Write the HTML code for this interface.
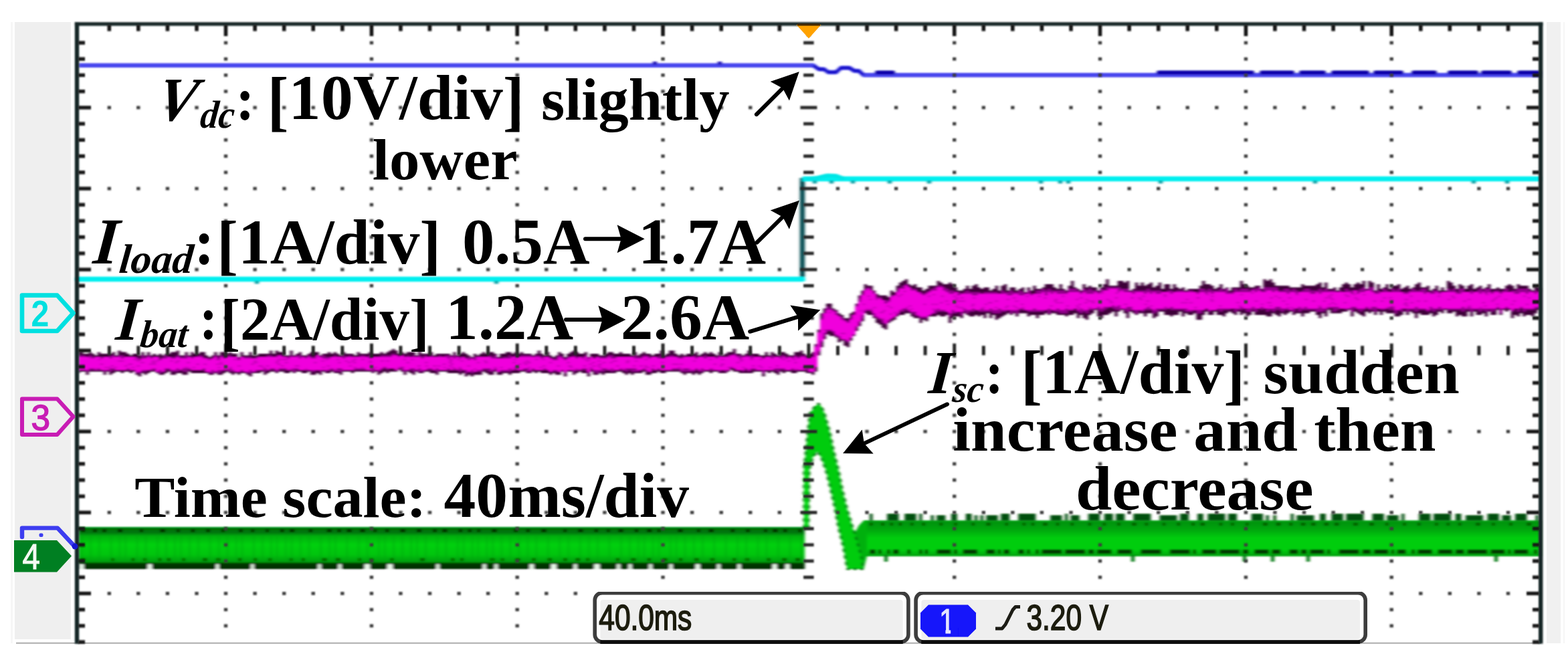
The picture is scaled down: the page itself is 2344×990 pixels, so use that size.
<!DOCTYPE html>
<html lang="en"><head><meta charset="utf-8"><title>Oscilloscope capture</title>
<style>html,body{margin:0;padding:0;background:#fff}body{width:2344px;height:990px;overflow:hidden}svg{display:block}.t{font-family:"Liberation Serif","DejaVu Serif",serif;fill:#000}.s{font-family:"Liberation Sans","DejaVu Sans",sans-serif}</style>
</head><body>
<svg width="2344" height="990" viewBox="0 0 2344 990">
<defs><filter id="b1" x="-2%" y="-2%" width="104%" height="104%"><feGaussianBlur stdDeviation="1.1"/></filter><filter id="b2" x="-2%" y="-2%" width="104%" height="104%"><feGaussianBlur stdDeviation="0.7"/></filter><filter id="b3" x="-2%" y="-2%" width="104%" height="104%"><feGaussianBlur stdDeviation="1.9 1.1"/></filter></defs>
<rect width="2344" height="990" fill="#fff"/>
<g id="panels">
<rect x="16" y="33" width="3" height="929" fill="#f6f6f6"/>
<rect x="22" y="33" width="84" height="923" fill="#efefef"/>
<rect x="2312" y="33" width="21" height="929" fill="#f0f0f0"/>
<rect x="2337" y="33" width="2" height="929" fill="#f6f6f6"/>
<rect x="24" y="960.8" width="2280" height="1.8" fill="#a6a6a6"/>
</g>
<g id="traces" filter="url(#b3)">
<polyline points="117,97.8 1216,97.8 1224,103.5 1232,103.5 1238,108 1250,108 1257,101.5 1270,101.5 1277,106 1284,106 1291,112.3 2303,112.3" fill="none" stroke="#4a46ee" stroke-width="6.4" stroke-linejoin="round"/>
<polyline points="1216,97.8 1224,103.5 1232,103.5 1238,108 1250,108 1257,101.5 1270,101.5 1277,106 1284,106 1291,112.3" fill="none" stroke="#1208c8" stroke-width="4" stroke-linejoin="round"/>
<rect x="1308" y="105.6" width="30" height="6" rx="2.5" fill="#0a00a8"/>
<rect x="1729" y="105.6" width="146" height="6" rx="2.5" fill="#0a00a8"/>
<rect x="1883" y="105.6" width="52" height="6" rx="2.5" fill="#0a00a8"/>
<rect x="1942" y="105.6" width="40" height="6" rx="2.5" fill="#0a00a8"/>
<rect x="1990" y="105.6" width="57" height="6" rx="2.5" fill="#0a00a8"/>
<rect x="2053" y="105.6" width="45" height="6" rx="2.5" fill="#0a00a8"/>
<rect x="2110" y="105.6" width="38" height="6" rx="2.5" fill="#0a00a8"/>
<rect x="2164" y="105.6" width="46" height="6" rx="2.5" fill="#0a00a8"/>
<rect x="2214" y="105.6" width="46" height="6" rx="2.5" fill="#0a00a8"/>
<rect x="2268" y="105.6" width="35" height="6" rx="2.5" fill="#0a00a8"/>
<rect x="976" y="92" width="6" height="5" fill="#1a10b0"/>
<rect x="1073" y="92" width="6" height="5" fill="#1a10b0"/>
<rect x="1195.8" y="266" width="7.2" height="152" fill="#004a50"/>
<polyline points="117,417.5 1200,417.5" fill="none" stroke="#00efef" stroke-width="7.6" stroke-linecap="round"/>
<polyline points="1199.5,267.5 2303,267.5" fill="none" stroke="#00efef" stroke-width="7.6"/>
<polyline points="1204,268 1222,266 1236,262.5 1250,263 1262,267.5" fill="none" stroke="#00e6e6" stroke-width="6"/>
<rect x="381" y="420" width="6" height="4.5" fill="#009aa0"/>
<rect x="739" y="420" width="6" height="4.5" fill="#009aa0"/>
<rect x="1215" y="270" width="6" height="4.5" fill="#009aa0"/>
<rect x="1240" y="270" width="6" height="4.5" fill="#009aa0"/>
<rect x="1272" y="270" width="6" height="4.5" fill="#009aa0"/>
<rect x="1327" y="270" width="6" height="4.5" fill="#009aa0"/>
<rect x="1386" y="270" width="6" height="4.5" fill="#009aa0"/>
<rect x="1553" y="270" width="6" height="4.5" fill="#009aa0"/>
<rect x="1582" y="270" width="6" height="4.5" fill="#009aa0"/>
<rect x="1594" y="270" width="6" height="4.5" fill="#009aa0"/>
<rect x="1732" y="270" width="6" height="4.5" fill="#009aa0"/>
<rect x="1963" y="270" width="6" height="4.5" fill="#009aa0"/>
<rect x="2200" y="270" width="6" height="4.5" fill="#009aa0"/>
<rect x="2250" y="270" width="6" height="4.5" fill="#009aa0"/>
<path d="M117 526.6V526.6 H119.7V524.2 H124.1V529 H128.4V529 H132.8V526.6 H137.1V529 H141.5V531.4 H145.8V526.6 H150.2V529 H154.6V529 H158.9V529 H163.3V529 H167.6V526.6 H172V531.4 H176.3V524.2 H180.7V526.6 H185.1V526.6 H189.4V529 H193.8V531.4 H198.1V529 H202.5V529 H206.8V531.4 H211.2V526.6 H215.5V531.4 H219.9V526.6 H224.3V531.4 H228.6V529 H233V531.4 H237.3V529 H241.7V531.4 H246V529 H250.4V529 H254.8V526.6 H259.1V526.6 H263.5V524.2 H267.8V531.4 H272.2V531.4 H276.5V526.6 H280.9V531.4 H285.3V526.6 H289.6V529 H294V529 H298.3V526.6 H302.7V526.6 H307V531.4 H311.4V533.9 H315.8V531.4 H320.1V526.6 H324.5V531.4 H328.8V526.6 H333.2V526.6 H337.5V529 H341.9V526.6 H346.2V529 H350.6V529 H355V533.9 H359.3V526.6 H363.7V531.4 H368V531.4 H372.4V526.6 H376.7V531.4 H381.1V531.4 H385.5V529 H389.8V529 H394.2V529 H398.5V529 H402.9V524.2 H407.2V529 H411.6V524.2 H416V526.6 H420.3V526.6 H424.7V531.4 H429V531.4 H433.4V524.2 H437.7V531.4 H442.1V529 H446.5V526.6 H450.8V531.4 H455.2V531.4 H459.5V529 H463.9V526.6 H468.2V526.6 H472.6V526.6 H476.9V531.4 H481.3V529 H485.7V529 H490V526.6 H494.4V529 H498.7V526.6 H503.1V529 H507.4V531.4 H511.8V526.6 H516.2V529 H520.5V529 H524.9V529 H529.2V531.4 H533.6V526.6 H537.9V529 H542.3V529 H546.7V529 H551V526.6 H555.4V529 H559.7V529 H564.1V529 H568.4V526.6 H572.8V529 H577.2V526.6 H581.5V524.2 H585.9V521.8 H590.2V524.2 H594.6V529 H598.9V526.6 H603.3V529 H607.7V526.6 H612V526.6 H616.4V526.6 H620.7V531.4 H625.1V524.2 H629.4V529 H633.8V529 H638.1V529 H642.5V526.6 H646.9V531.4 H651.2V529 H655.6V529 H659.9V529 H664.3V529 H668.6V529 H673V531.4 H677.4V526.6 H681.7V531.4 H686.1V529 H690.4V526.6 H694.8V529 H699.1V531.4 H703.5V533.9 H707.9V529 H712.2V531.4 H716.6V529 H720.9V526.6 H725.3V529 H729.6V526.6 H734V526.6 H738.4V529 H742.7V533.9 H747.1V529 H751.4V529 H755.8V526.6 H760.1V526.6 H764.5V529 H768.8V526.6 H773.2V529 H777.6V526.6 H781.9V529 H786.3V529 H790.6V529 H795V531.4 H799.3V529 H803.7V524.2 H808.1V529 H812.4V531.4 H816.8V526.6 H821.1V531.4 H825.5V533.9 H829.8V531.4 H834.2V526.6 H838.6V529 H842.9V533.9 H847.3V529 H851.6V526.6 H856V524.2 H860.3V526.6 H864.7V529 H869.1V529 H873.4V526.6 H877.8V533.9 H882.1V529 H886.5V529 H890.8V529 H895.2V531.4 H899.5V531.4 H903.9V529 H908.3V526.6 H912.6V526.6 H917V529 H921.3V529 H925.7V526.6 H930V529 H934.4V529 H938.8V529 H943.1V531.4 H947.5V526.6 H951.8V531.4 H956.2V529 H960.5V526.6 H964.9V529 H969.3V529 H973.6V531.4 H978V529 H982.3V529 H986.7V524.2 H991V531.4 H995.4V529 H999.8V524.2 H1004.1V524.2 H1008.5V529 H1012.8V531.4 H1017.2V529 H1021.5V531.4 H1025.9V529 H1030.3V529 H1034.6V529 H1039V526.6 H1043.3V531.4 H1047.7V529 H1052V526.6 H1056.4V529 H1060.7V526.6 H1065.1V529 H1069.5V531.4 H1073.8V526.6 H1078.2V531.4 H1082.5V529 H1086.9V526.6 H1091.2V526.6 H1095.6V521.8 H1100V529 H1104.3V529 H1108.7V531.4 H1113V529 H1117.4V524.2 H1121.7V529 H1126.1V529 H1130.5V529 H1134.8V531.4 H1139.2V531.4 H1143.5V526.6 H1147.9V531.4 H1152.2V526.6 H1156.6V529 H1161V531.4 H1165.3V526.6 H1169.7V526.6 H1174V529 H1178.4V531.4 H1182.7V531.4 H1187.1V526.6 H1191.4V526.6 H1195.8V524.2 H1200.2V529 H1204.5V531.4 H1208.9V529 H1213.2V526.6 H1217.6V514.5 H1221.9V492.7 H1226.3V468.5 H1230.7V461.2 H1235V453.9 H1239.4V453.9 H1243.7V461.2 H1248.1V463.6 H1252.4V468.5 H1256.8V470.9 H1261.2V475.7 H1265.5V475.7 H1269.9V468.5 H1274.2V466.1 H1278.6V453.9 H1282.9V441.8 H1287.3V434.6 H1291.7V424.9 H1296V427.3 H1300.4V427.3 H1304.7V434.6 H1309.1V439.4 H1313.4V441.8 H1317.8V441.8 H1322.1V441.8 H1326.5V444.3 H1330.9V434.6 H1335.2V437 H1339.6V427.3 H1343.9V422.5 H1348.3V420 H1352.6V417.6 H1357V424.9 H1361.4V427.3 H1365.7V424.9 H1370.1V429.7 H1374.4V429.7 H1378.8V434.6 H1383.1V432.1 H1387.5V427.3 H1391.9V427.3 H1396.2V427.3 H1400.6V420 H1404.9V422.5 H1409.3V424.9 H1413.6V424.9 H1418V422.5 H1422.4V424.9 H1426.7V429.7 H1431.1V434.6 H1435.4V434.6 H1439.8V432.1 H1444.1V427.3 H1448.5V432.1 H1452.9V427.3 H1457.2V424.9 H1461.6V429.7 H1465.9V432.1 H1470.3V429.7 H1474.6V429.7 H1479V434.6 H1483.3V432.1 H1487.7V427.3 H1492.1V434.6 H1496.4V427.3 H1500.8V424.9 H1505.1V434.6 H1509.5V429.7 H1513.8V429.7 H1518.2V434.6 H1522.6V432.1 H1526.9V429.7 H1531.3V437 H1535.6V429.7 H1540V434.6 H1544.3V427.3 H1548.7V432.1 H1553.1V432.1 H1557.4V429.7 H1561.8V424.9 H1566.1V424.9 H1570.5V424.9 H1574.8V429.7 H1579.2V432.1 H1583.6V424.9 H1587.9V432.1 H1592.3V434.6 H1596.6V427.3 H1601V420 H1605.3V429.7 H1609.7V432.1 H1614V434.6 H1618.4V424.9 H1622.8V429.7 H1627.1V427.3 H1631.5V429.7 H1635.8V429.7 H1640.2V434.6 H1644.5V429.7 H1648.9V424.9 H1653.3V417.6 H1657.6V427.3 H1662V427.3 H1666.3V427.3 H1670.7V420 H1675V420 H1679.4V422.5 H1683.8V420 H1688.1V434.6 H1692.5V432.1 H1696.8V422.5 H1701.2V427.3 H1705.5V422.5 H1709.9V427.3 H1714.3V424.9 H1718.6V422.5 H1723V429.7 H1727.3V427.3 H1731.7V422.5 H1736V432.1 H1740.4V424.9 H1744.7V424.9 H1749.1V432.1 H1753.5V424.9 H1757.8V429.7 H1762.2V432.1 H1766.5V429.7 H1770.9V434.6 H1775.2V432.1 H1779.6V432.1 H1784V432.1 H1788.3V432.1 H1792.7V427.3 H1797V420 H1801.4V424.9 H1805.7V424.9 H1810.1V427.3 H1814.5V432.1 H1818.8V429.7 H1823.2V424.9 H1827.5V432.1 H1831.9V429.7 H1836.2V434.6 H1840.6V429.7 H1845V429.7 H1849.3V429.7 H1853.7V420 H1858V424.9 H1862.4V427.3 H1866.7V429.7 H1871.1V429.7 H1875.5V427.3 H1879.8V427.3 H1884.2V432.1 H1888.5V417.6 H1892.9V420 H1897.2V417.6 H1901.6V422.5 H1905.9V427.3 H1910.3V427.3 H1914.7V427.3 H1919V427.3 H1923.4V427.3 H1927.7V429.7 H1932.1V429.7 H1936.4V429.7 H1940.8V429.7 H1945.2V424.9 H1949.5V427.3 H1953.9V427.3 H1958.2V427.3 H1962.6V427.3 H1966.9V424.9 H1971.3V422.5 H1975.7V429.7 H1980V422.5 H1984.4V432.1 H1988.7V432.1 H1993.1V429.7 H1997.4V434.6 H2001.8V429.7 H2006.2V424.9 H2010.5V422.5 H2014.9V424.9 H2019.2V429.7 H2023.6V424.9 H2027.9V422.5 H2032.3V424.9 H2036.6V420 H2041V432.1 H2045.4V420 H2049.7V422.5 H2054.1V434.6 H2058.4V424.9 H2062.8V432.1 H2067.1V429.7 H2071.5V424.9 H2075.9V432.1 H2080.2V427.3 H2084.6V427.3 H2088.9V424.9 H2093.3V432.1 H2097.6V429.7 H2102V427.3 H2106.4V432.1 H2110.7V429.7 H2115.1V424.9 H2119.4V422.5 H2123.8V429.7 H2128.1V429.7 H2132.5V427.3 H2136.9V434.6 H2141.2V432.1 H2145.6V427.3 H2149.9V434.6 H2154.3V429.7 H2158.6V434.6 H2163V420 H2167.3V422.5 H2171.7V427.3 H2176.1V432.1 H2180.4V424.9 H2184.8V427.3 H2189.1V432.1 H2193.5V427.3 H2197.8V424.9 H2202.2V432.1 H2206.6V429.7 H2210.9V427.3 H2215.3V432.1 H2219.6V429.7 H2224V424.9 H2228.3V432.1 H2232.7V432.1 H2237.1V429.7 H2241.4V432.1 H2245.8V432.1 H2250.1V427.3 H2254.5V424.9 H2258.8V427.3 H2263.2V432.1 H2267.6V424.9 H2271.9V427.3 H2276.3V427.3 H2280.6V427.3 H2285V432.1 H2289.3V434.6 H2293.7V427.3 H2298V429.7 H2302.4V432.1 H2303V470.9V470.9 H2302.4V463.6 H2298V468.5 H2293.7V473.3 H2289.3V470.9 H2285V470.9 H2280.6V473.3 H2276.3V468.5 H2271.9V473.3 H2267.6V470.9 H2263.2V475.7 H2258.8V463.6 H2254.5V466.1 H2250.1V463.6 H2245.8V470.9 H2241.4V463.6 H2237.1V470.9 H2232.7V470.9 H2228.3V466.1 H2224V473.3 H2219.6V468.5 H2215.3V470.9 H2210.9V470.9 H2206.6V466.1 H2202.2V473.3 H2197.8V466.1 H2193.5V473.3 H2189.1V473.3 H2184.8V470.9 H2180.4V473.3 H2176.1V466.1 H2171.7V468.5 H2167.3V468.5 H2163V463.6 H2158.6V468.5 H2154.3V466.1 H2149.9V470.9 H2145.6V473.3 H2141.2V468.5 H2136.9V470.9 H2132.5V470.9 H2128.1V470.9 H2123.8V468.5 H2119.4V475.7 H2115.1V468.5 H2110.7V466.1 H2106.4V470.9 H2102V466.1 H2097.6V470.9 H2093.3V473.3 H2088.9V473.3 H2084.6V468.5 H2080.2V468.5 H2075.9V468.5 H2071.5V466.1 H2067.1V470.9 H2062.8V466.1 H2058.4V470.9 H2054.1V466.1 H2049.7V468.5 H2045.4V466.1 H2041V473.3 H2036.6V470.9 H2032.3V468.5 H2027.9V466.1 H2023.6V473.3 H2019.2V463.6 H2014.9V466.1 H2010.5V466.1 H2006.2V468.5 H2001.8V468.5 H1997.4V468.5 H1993.1V468.5 H1988.7V463.6 H1984.4V473.3 H1980V468.5 H1975.7V475.7 H1971.3V470.9 H1966.9V466.1 H1962.6V466.1 H1958.2V468.5 H1953.9V468.5 H1949.5V473.3 H1945.2V468.5 H1940.8V468.5 H1936.4V470.9 H1932.1V466.1 H1927.7V468.5 H1923.4V470.9 H1919V468.5 H1914.7V473.3 H1910.3V470.9 H1905.9V468.5 H1901.6V473.3 H1897.2V473.3 H1892.9V470.9 H1888.5V470.9 H1884.2V470.9 H1879.8V470.9 H1875.5V466.1 H1871.1V470.9 H1866.7V473.3 H1862.4V468.5 H1858V470.9 H1853.7V466.1 H1849.3V470.9 H1845V468.5 H1840.6V466.1 H1836.2V468.5 H1831.9V473.3 H1827.5V470.9 H1823.2V470.9 H1818.8V466.1 H1814.5V470.9 H1810.1V470.9 H1805.7V466.1 H1801.4V470.9 H1797V478.2 H1792.7V478.2 H1788.3V468.5 H1784V470.9 H1779.6V470.9 H1775.2V468.5 H1770.9V473.3 H1766.5V466.1 H1762.2V470.9 H1757.8V470.9 H1753.5V473.3 H1749.1V470.9 H1744.7V470.9 H1740.4V466.1 H1736V466.1 H1731.7V473.3 H1727.3V475.7 H1723V468.5 H1718.6V468.5 H1714.3V473.3 H1709.9V468.5 H1705.5V468.5 H1701.2V470.9 H1696.8V468.5 H1692.5V466.1 H1688.1V475.7 H1683.8V468.5 H1679.4V463.6 H1675V466.1 H1670.7V473.3 H1666.3V466.1 H1662V468.5 H1657.6V470.9 H1653.3V470.9 H1648.9V475.7 H1644.5V473.3 H1640.2V463.6 H1635.8V468.5 H1631.5V470.9 H1627.1V478.2 H1622.8V475.7 H1618.4V470.9 H1614V475.7 H1609.7V468.5 H1605.3V470.9 H1601V470.9 H1596.6V473.3 H1592.3V470.9 H1587.9V470.9 H1583.6V470.9 H1579.2V468.5 H1574.8V468.5 H1570.5V470.9 H1566.1V468.5 H1561.8V470.9 H1557.4V470.9 H1553.1V475.7 H1548.7V470.9 H1544.3V470.9 H1540V473.3 H1535.6V468.5 H1531.3V468.5 H1526.9V468.5 H1522.6V473.3 H1518.2V468.5 H1513.8V470.9 H1509.5V468.5 H1505.1V470.9 H1500.8V473.3 H1496.4V475.7 H1492.1V478.2 H1487.7V470.9 H1483.3V475.7 H1479V468.5 H1474.6V475.7 H1470.3V470.9 H1465.9V473.3 H1461.6V470.9 H1457.2V473.3 H1452.9V473.3 H1448.5V470.9 H1444.1V468.5 H1439.8V475.7 H1435.4V473.3 H1431.1V473.3 H1426.7V475.7 H1422.4V483 H1418V470.9 H1413.6V473.3 H1409.3V473.3 H1404.9V470.9 H1400.6V473.3 H1396.2V473.3 H1391.9V473.3 H1387.5V480.6 H1383.1V478.2 H1378.8V483 H1374.4V475.7 H1370.1V475.7 H1365.7V473.3 H1361.4V468.5 H1357V468.5 H1352.6V470.9 H1348.3V470.9 H1343.9V473.3 H1339.6V478.2 H1335.2V480.6 H1330.9V483 H1326.5V492.7 H1322.1V490.3 H1317.8V485.4 H1313.4V483 H1309.1V475.7 H1304.7V470.9 H1300.4V470.9 H1296V468.5 H1291.7V480.6 H1287.3V487.8 H1282.9V495.1 H1278.6V502.4 H1274.2V509.6 H1269.9V519.3 H1265.5V516.9 H1261.2V509.6 H1256.8V512.1 H1252.4V504.8 H1248.1V502.4 H1243.7V502.4 H1239.4V500 H1235V507.2 H1230.7V519.3 H1226.3V531.4 H1221.9V555.7 H1217.6V560.5 H1213.2V558.1 H1208.9V558.1 H1204.5V555.7 H1200.2V555.7 H1195.8V555.7 H1191.4V558.1 H1187.1V558.1 H1182.7V555.7 H1178.4V555.7 H1174V558.1 H1169.7V555.7 H1165.3V560.5 H1161V558.1 H1156.6V555.7 H1152.2V558.1 H1147.9V555.7 H1143.5V562.9 H1139.2V555.7 H1134.8V555.7 H1130.5V555.7 H1126.1V558.1 H1121.7V558.1 H1117.4V558.1 H1113V558.1 H1108.7V558.1 H1104.3V555.7 H1100V555.7 H1095.6V553.2 H1091.2V555.7 H1086.9V558.1 H1082.5V558.1 H1078.2V558.1 H1073.8V555.7 H1069.5V555.7 H1065.1V558.1 H1060.7V555.7 H1056.4V555.7 H1052V558.1 H1047.7V560.5 H1043.3V558.1 H1039V560.5 H1034.6V558.1 H1030.3V558.1 H1025.9V560.5 H1021.5V558.1 H1017.2V555.7 H1012.8V555.7 H1008.5V555.7 H1004.1V555.7 H999.8V555.7 H995.4V558.1 H991V558.1 H986.7V555.7 H982.3V558.1 H978V558.1 H973.6V560.5 H969.3V560.5 H964.9V555.7 H960.5V558.1 H956.2V558.1 H951.8V558.1 H947.5V560.5 H943.1V558.1 H938.8V560.5 H934.4V558.1 H930V555.7 H925.7V555.7 H921.3V558.1 H917V558.1 H912.6V558.1 H908.3V558.1 H903.9V560.5 H899.5V558.1 H895.2V560.5 H890.8V560.5 H886.5V555.7 H882.1V562.9 H877.8V558.1 H873.4V558.1 H869.1V555.7 H864.7V558.1 H860.3V560.5 H856V555.7 H851.6V555.7 H847.3V562.9 H842.9V555.7 H838.6V560.5 H834.2V560.5 H829.8V558.1 H825.5V560.5 H821.1V558.1 H816.8V558.1 H812.4V558.1 H808.1V555.7 H803.7V558.1 H799.3V555.7 H795V558.1 H790.6V558.1 H786.3V555.7 H781.9V555.7 H777.6V558.1 H773.2V558.1 H768.8V558.1 H764.5V560.5 H760.1V558.1 H755.8V558.1 H751.4V560.5 H747.1V560.5 H742.7V555.7 H738.4V560.5 H734V560.5 H729.6V558.1 H725.3V555.7 H720.9V560.5 H716.6V560.5 H712.2V560.5 H707.9V562.9 H703.5V560.5 H699.1V562.9 H694.8V558.1 H690.4V560.5 H686.1V558.1 H681.7V558.1 H677.4V558.1 H673V558.1 H668.6V555.7 H664.3V555.7 H659.9V555.7 H655.6V560.5 H651.2V558.1 H646.9V558.1 H642.5V555.7 H638.1V555.7 H633.8V558.1 H629.4V558.1 H625.1V555.7 H620.7V560.5 H616.4V558.1 H612V555.7 H607.7V560.5 H603.3V555.7 H598.9V553.2 H594.6V555.7 H590.2V555.7 H585.9V555.7 H581.5V558.1 H577.2V555.7 H572.8V558.1 H568.4V560.5 H564.1V555.7 H559.7V558.1 H555.4V555.7 H551V555.7 H546.7V555.7 H542.3V555.7 H537.9V555.7 H533.6V555.7 H529.2V558.1 H524.9V555.7 H520.5V555.7 H516.2V555.7 H511.8V560.5 H507.4V558.1 H503.1V558.1 H498.7V555.7 H494.4V558.1 H490V558.1 H485.7V555.7 H481.3V560.5 H476.9V558.1 H472.6V560.5 H468.2V560.5 H463.9V555.7 H459.5V558.1 H455.2V558.1 H450.8V555.7 H446.5V555.7 H442.1V558.1 H437.7V555.7 H433.4V558.1 H429V558.1 H424.7V555.7 H420.3V555.7 H416V558.1 H411.6V555.7 H407.2V555.7 H402.9V558.1 H398.5V560.5 H394.2V555.7 H389.8V558.1 H385.5V558.1 H381.1V558.1 H376.7V562.9 H372.4V560.5 H368V558.1 H363.7V558.1 H359.3V560.5 H355V558.1 H350.6V560.5 H346.2V558.1 H341.9V555.7 H337.5V558.1 H333.2V560.5 H328.8V560.5 H324.5V558.1 H320.1V560.5 H315.8V560.5 H311.4V558.1 H307V558.1 H302.7V558.1 H298.3V558.1 H294V558.1 H289.6V558.1 H285.3V555.7 H280.9V560.5 H276.5V560.5 H272.2V558.1 H267.8V558.1 H263.5V560.5 H259.1V560.5 H254.8V555.7 H250.4V558.1 H246V560.5 H241.7V560.5 H237.3V558.1 H233V555.7 H228.6V555.7 H224.3V558.1 H219.9V560.5 H215.5V558.1 H211.2V562.9 H206.8V560.5 H202.5V555.7 H198.1V558.1 H193.8V555.7 H189.4V555.7 H185.1V558.1 H180.7V555.7 H176.3V555.7 H172V558.1 H167.6V560.5 H163.3V555.7 H158.9V560.5 H154.6V555.7 H150.2V555.7 H145.8V555.7 H141.5V555.7 H137.1V555.7 H132.8V560.5 H128.4V555.7 H124.1V555.7 H119.7V558.1 H117Z" fill="#3c0038"/>
<path d="M117 531.4V531.4 H119.7V531.4 H124.1V531.4 H128.4V533.9 H132.8V531.4 H137.1V533.9 H141.5V533.9 H145.8V533.9 H150.2V533.9 H154.6V533.9 H158.9V533.9 H163.3V531.4 H167.6V531.4 H172V533.9 H176.3V531.4 H180.7V531.4 H185.1V533.9 H189.4V533.9 H193.8V533.9 H198.1V533.9 H202.5V533.9 H206.8V536.3 H211.2V531.4 H215.5V533.9 H219.9V531.4 H224.3V533.9 H228.6V533.9 H233V533.9 H237.3V536.3 H241.7V533.9 H246V531.4 H250.4V533.9 H254.8V533.9 H259.1V533.9 H263.5V531.4 H267.8V533.9 H272.2V533.9 H276.5V531.4 H280.9V533.9 H285.3V533.9 H289.6V533.9 H294V531.4 H298.3V531.4 H302.7V533.9 H307V536.3 H311.4V536.3 H315.8V536.3 H320.1V531.4 H324.5V536.3 H328.8V531.4 H333.2V533.9 H337.5V531.4 H341.9V531.4 H346.2V533.9 H350.6V533.9 H355V536.3 H359.3V533.9 H363.7V533.9 H368V533.9 H372.4V533.9 H376.7V536.3 H381.1V533.9 H385.5V533.9 H389.8V533.9 H394.2V533.9 H398.5V531.4 H402.9V531.4 H407.2V533.9 H411.6V531.4 H416V531.4 H420.3V531.4 H424.7V533.9 H429V533.9 H433.4V531.4 H437.7V533.9 H442.1V531.4 H446.5V531.4 H450.8V533.9 H455.2V533.9 H459.5V531.4 H463.9V533.9 H468.2V533.9 H472.6V531.4 H476.9V533.9 H481.3V531.4 H485.7V533.9 H490V533.9 H494.4V533.9 H498.7V531.4 H503.1V533.9 H507.4V533.9 H511.8V531.4 H516.2V533.9 H520.5V531.4 H524.9V533.9 H529.2V533.9 H533.6V533.9 H537.9V531.4 H542.3V531.4 H546.7V533.9 H551V531.4 H555.4V533.9 H559.7V533.9 H564.1V533.9 H568.4V531.4 H572.8V531.4 H577.2V531.4 H581.5V531.4 H585.9V529 H590.2V531.4 H594.6V531.4 H598.9V531.4 H603.3V533.9 H607.7V531.4 H612V533.9 H616.4V531.4 H620.7V533.9 H625.1V531.4 H629.4V533.9 H633.8V531.4 H638.1V533.9 H642.5V531.4 H646.9V533.9 H651.2V533.9 H655.6V531.4 H659.9V533.9 H664.3V531.4 H668.6V531.4 H673V533.9 H677.4V531.4 H681.7V533.9 H686.1V533.9 H690.4V533.9 H694.8V536.3 H699.1V533.9 H703.5V536.3 H707.9V533.9 H712.2V533.9 H716.6V533.9 H720.9V533.9 H725.3V533.9 H729.6V531.4 H734V533.9 H738.4V531.4 H742.7V536.3 H747.1V536.3 H751.4V533.9 H755.8V533.9 H760.1V531.4 H764.5V533.9 H768.8V531.4 H773.2V533.9 H777.6V531.4 H781.9V531.4 H786.3V531.4 H790.6V531.4 H795V533.9 H799.3V531.4 H803.7V531.4 H808.1V533.9 H812.4V533.9 H816.8V533.9 H821.1V536.3 H825.5V536.3 H829.8V536.3 H834.2V531.4 H838.6V533.9 H842.9V536.3 H847.3V533.9 H851.6V533.9 H856V531.4 H860.3V533.9 H864.7V533.9 H869.1V533.9 H873.4V531.4 H877.8V536.3 H882.1V533.9 H886.5V536.3 H890.8V533.9 H895.2V533.9 H899.5V533.9 H903.9V533.9 H908.3V531.4 H912.6V531.4 H917V533.9 H921.3V533.9 H925.7V533.9 H930V533.9 H934.4V533.9 H938.8V533.9 H943.1V533.9 H947.5V531.4 H951.8V533.9 H956.2V533.9 H960.5V531.4 H964.9V531.4 H969.3V533.9 H973.6V533.9 H978V533.9 H982.3V533.9 H986.7V531.4 H991V533.9 H995.4V533.9 H999.8V531.4 H1004.1V531.4 H1008.5V533.9 H1012.8V533.9 H1017.2V533.9 H1021.5V533.9 H1025.9V533.9 H1030.3V533.9 H1034.6V531.4 H1039V533.9 H1043.3V533.9 H1047.7V533.9 H1052V531.4 H1056.4V533.9 H1060.7V533.9 H1065.1V533.9 H1069.5V533.9 H1073.8V531.4 H1078.2V533.9 H1082.5V533.9 H1086.9V531.4 H1091.2V531.4 H1095.6V529 H1100V531.4 H1104.3V531.4 H1108.7V533.9 H1113V531.4 H1117.4V531.4 H1121.7V531.4 H1126.1V533.9 H1130.5V533.9 H1134.8V533.9 H1139.2V536.3 H1143.5V533.9 H1147.9V533.9 H1152.2V531.4 H1156.6V533.9 H1161V533.9 H1165.3V531.4 H1169.7V531.4 H1174V533.9 H1178.4V533.9 H1182.7V533.9 H1187.1V531.4 H1191.4V533.9 H1195.8V531.4 H1200.2V531.4 H1204.5V533.9 H1208.9V536.3 H1213.2V533.9 H1217.6V516.9 H1221.9V497.5 H1226.3V475.7 H1230.7V468.5 H1235V458.8 H1239.4V461.2 H1243.7V463.6 H1248.1V466.1 H1252.4V473.3 H1256.8V475.7 H1261.2V478.2 H1265.5V480.6 H1269.9V475.7 H1274.2V470.9 H1278.6V456.4 H1282.9V446.7 H1287.3V439.4 H1291.7V432.1 H1296V429.7 H1300.4V434.6 H1304.7V437 H1309.1V444.3 H1313.4V444.3 H1317.8V449.1 H1322.1V449.1 H1326.5V449.1 H1330.9V441.8 H1335.2V441.8 H1339.6V434.6 H1343.9V429.7 H1348.3V427.3 H1352.6V424.9 H1357V429.7 H1361.4V432.1 H1365.7V432.1 H1370.1V437 H1374.4V437 H1378.8V439.4 H1383.1V437 H1387.5V434.6 H1391.9V432.1 H1396.2V429.7 H1400.6V427.3 H1404.9V427.3 H1409.3V429.7 H1413.6V432.1 H1418V434.6 H1422.4V434.6 H1426.7V437 H1431.1V437 H1435.4V439.4 H1439.8V437 H1444.1V434.6 H1448.5V437 H1452.9V437 H1457.2V437 H1461.6V437 H1465.9V439.4 H1470.3V437 H1474.6V437 H1479V437 H1483.3V437 H1487.7V437 H1492.1V439.4 H1496.4V434.6 H1500.8V437 H1505.1V437 H1509.5V434.6 H1513.8V437 H1518.2V437 H1522.6V434.6 H1526.9V437 H1531.3V439.4 H1535.6V434.6 H1540V439.4 H1544.3V439.4 H1548.7V434.6 H1553.1V434.6 H1557.4V432.1 H1561.8V434.6 H1566.1V432.1 H1570.5V434.6 H1574.8V434.6 H1579.2V434.6 H1583.6V434.6 H1587.9V434.6 H1592.3V437 H1596.6V432.1 H1601V432.1 H1605.3V432.1 H1609.7V434.6 H1614V437 H1618.4V432.1 H1622.8V434.6 H1627.1V432.1 H1631.5V434.6 H1635.8V434.6 H1640.2V437 H1644.5V432.1 H1648.9V434.6 H1653.3V429.7 H1657.6V429.7 H1662V429.7 H1666.3V429.7 H1670.7V429.7 H1675V432.1 H1679.4V432.1 H1683.8V432.1 H1688.1V437 H1692.5V434.6 H1696.8V434.6 H1701.2V434.6 H1705.5V434.6 H1709.9V434.6 H1714.3V432.1 H1718.6V434.6 H1723V434.6 H1727.3V434.6 H1731.7V434.6 H1736V437 H1740.4V437 H1744.7V434.6 H1749.1V434.6 H1753.5V437 H1757.8V434.6 H1762.2V434.6 H1766.5V434.6 H1770.9V437 H1775.2V434.6 H1779.6V434.6 H1784V437 H1788.3V437 H1792.7V432.1 H1797V432.1 H1801.4V434.6 H1805.7V432.1 H1810.1V434.6 H1814.5V434.6 H1818.8V434.6 H1823.2V432.1 H1827.5V434.6 H1831.9V432.1 H1836.2V437 H1840.6V437 H1845V432.1 H1849.3V434.6 H1853.7V432.1 H1858V432.1 H1862.4V432.1 H1866.7V434.6 H1871.1V432.1 H1875.5V432.1 H1879.8V429.7 H1884.2V434.6 H1888.5V429.7 H1892.9V429.7 H1897.2V429.7 H1901.6V429.7 H1905.9V429.7 H1910.3V434.6 H1914.7V434.6 H1919V432.1 H1923.4V432.1 H1927.7V434.6 H1932.1V432.1 H1936.4V434.6 H1940.8V437 H1945.2V434.6 H1949.5V432.1 H1953.9V432.1 H1958.2V434.6 H1962.6V434.6 H1966.9V434.6 H1971.3V432.1 H1975.7V434.6 H1980V432.1 H1984.4V434.6 H1988.7V434.6 H1993.1V434.6 H1997.4V437 H2001.8V434.6 H2006.2V437 H2010.5V432.1 H2014.9V434.6 H2019.2V434.6 H2023.6V434.6 H2027.9V434.6 H2032.3V432.1 H2036.6V429.7 H2041V434.6 H2045.4V429.7 H2049.7V429.7 H2054.1V437 H2058.4V434.6 H2062.8V437 H2067.1V432.1 H2071.5V434.6 H2075.9V437 H2080.2V432.1 H2084.6V434.6 H2088.9V432.1 H2093.3V437 H2097.6V437 H2102V437 H2106.4V434.6 H2110.7V432.1 H2115.1V434.6 H2119.4V434.6 H2123.8V432.1 H2128.1V432.1 H2132.5V437 H2136.9V437 H2141.2V434.6 H2145.6V434.6 H2149.9V437 H2154.3V437 H2158.6V437 H2163V432.1 H2167.3V434.6 H2171.7V432.1 H2176.1V437 H2180.4V432.1 H2184.8V432.1 H2189.1V437 H2193.5V437 H2197.8V434.6 H2202.2V437 H2206.6V434.6 H2210.9V432.1 H2215.3V434.6 H2219.6V432.1 H2224V432.1 H2228.3V437 H2232.7V434.6 H2237.1V434.6 H2241.4V437 H2245.8V434.6 H2250.1V432.1 H2254.5V437 H2258.8V434.6 H2263.2V434.6 H2267.6V432.1 H2271.9V432.1 H2276.3V432.1 H2280.6V432.1 H2285V434.6 H2289.3V437 H2293.7V434.6 H2298V437 H2302.4V437 H2303V463.6V463.6 H2302.4V461.2 H2298V461.2 H2293.7V463.6 H2289.3V463.6 H2285V463.6 H2280.6V466.1 H2276.3V461.2 H2271.9V466.1 H2267.6V461.2 H2263.2V466.1 H2258.8V461.2 H2254.5V461.2 H2250.1V461.2 H2245.8V468.5 H2241.4V461.2 H2237.1V463.6 H2232.7V466.1 H2228.3V463.6 H2224V466.1 H2219.6V463.6 H2215.3V466.1 H2210.9V463.6 H2206.6V463.6 H2202.2V466.1 H2197.8V463.6 H2193.5V463.6 H2189.1V466.1 H2184.8V463.6 H2180.4V463.6 H2176.1V463.6 H2171.7V463.6 H2167.3V463.6 H2163V461.2 H2158.6V463.6 H2154.3V463.6 H2149.9V463.6 H2145.6V466.1 H2141.2V463.6 H2136.9V466.1 H2132.5V463.6 H2128.1V463.6 H2123.8V463.6 H2119.4V466.1 H2115.1V463.6 H2110.7V463.6 H2106.4V466.1 H2102V461.2 H2097.6V466.1 H2093.3V463.6 H2088.9V468.5 H2084.6V463.6 H2080.2V463.6 H2075.9V461.2 H2071.5V463.6 H2067.1V463.6 H2062.8V461.2 H2058.4V466.1 H2054.1V463.6 H2049.7V463.6 H2045.4V461.2 H2041V463.6 H2036.6V466.1 H2032.3V463.6 H2027.9V461.2 H2023.6V466.1 H2019.2V461.2 H2014.9V463.6 H2010.5V461.2 H2006.2V461.2 H2001.8V463.6 H1997.4V466.1 H1993.1V461.2 H1988.7V461.2 H1984.4V463.6 H1980V466.1 H1975.7V466.1 H1971.3V466.1 H1966.9V463.6 H1962.6V463.6 H1958.2V463.6 H1953.9V463.6 H1949.5V463.6 H1945.2V466.1 H1940.8V461.2 H1936.4V466.1 H1932.1V463.6 H1927.7V463.6 H1923.4V463.6 H1919V466.1 H1914.7V463.6 H1910.3V463.6 H1905.9V466.1 H1901.6V463.6 H1897.2V466.1 H1892.9V461.2 H1888.5V463.6 H1884.2V461.2 H1879.8V466.1 H1875.5V463.6 H1871.1V466.1 H1866.7V466.1 H1862.4V461.2 H1858V463.6 H1853.7V463.6 H1849.3V466.1 H1845V461.2 H1840.6V463.6 H1836.2V463.6 H1831.9V463.6 H1827.5V466.1 H1823.2V463.6 H1818.8V463.6 H1814.5V463.6 H1810.1V466.1 H1805.7V461.2 H1801.4V463.6 H1797V468.5 H1792.7V468.5 H1788.3V463.6 H1784V466.1 H1779.6V466.1 H1775.2V466.1 H1770.9V463.6 H1766.5V463.6 H1762.2V463.6 H1757.8V463.6 H1753.5V463.6 H1749.1V461.2 H1744.7V463.6 H1740.4V463.6 H1736V463.6 H1731.7V466.1 H1727.3V468.5 H1723V463.6 H1718.6V463.6 H1714.3V463.6 H1709.9V466.1 H1705.5V463.6 H1701.2V468.5 H1696.8V463.6 H1692.5V463.6 H1688.1V466.1 H1683.8V463.6 H1679.4V461.2 H1675V463.6 H1670.7V463.6 H1666.3V461.2 H1662V458.8 H1657.6V461.2 H1653.3V463.6 H1648.9V466.1 H1644.5V463.6 H1640.2V461.2 H1635.8V463.6 H1631.5V463.6 H1627.1V468.5 H1622.8V466.1 H1618.4V468.5 H1614V466.1 H1609.7V461.2 H1605.3V463.6 H1601V463.6 H1596.6V468.5 H1592.3V468.5 H1587.9V468.5 H1583.6V466.1 H1579.2V466.1 H1574.8V463.6 H1570.5V468.5 H1566.1V463.6 H1561.8V466.1 H1557.4V466.1 H1553.1V466.1 H1548.7V466.1 H1544.3V466.1 H1540V466.1 H1535.6V463.6 H1531.3V463.6 H1526.9V463.6 H1522.6V468.5 H1518.2V466.1 H1513.8V468.5 H1509.5V463.6 H1505.1V466.1 H1500.8V466.1 H1496.4V468.5 H1492.1V468.5 H1487.7V468.5 H1483.3V466.1 H1479V466.1 H1474.6V466.1 H1470.3V466.1 H1465.9V466.1 H1461.6V463.6 H1457.2V466.1 H1452.9V466.1 H1448.5V468.5 H1444.1V466.1 H1439.8V470.9 H1435.4V466.1 H1431.1V468.5 H1426.7V468.5 H1422.4V473.3 H1418V466.1 H1413.6V466.1 H1409.3V466.1 H1404.9V466.1 H1400.6V468.5 H1396.2V468.5 H1391.9V470.9 H1387.5V475.7 H1383.1V475.7 H1378.8V475.7 H1374.4V473.3 H1370.1V470.9 H1365.7V468.5 H1361.4V466.1 H1357V463.6 H1352.6V466.1 H1348.3V466.1 H1343.9V470.9 H1339.6V473.3 H1335.2V475.7 H1330.9V480.6 H1326.5V485.4 H1322.1V483 H1317.8V478.2 H1313.4V475.7 H1309.1V473.3 H1304.7V466.1 H1300.4V463.6 H1296V466.1 H1291.7V475.7 H1287.3V480.6 H1282.9V490.3 H1278.6V500 H1274.2V504.8 H1269.9V512.1 H1265.5V509.6 H1261.2V507.2 H1256.8V504.8 H1252.4V502.4 H1248.1V497.5 H1243.7V495.1 H1239.4V495.1 H1235V502.4 H1230.7V512.1 H1226.3V526.6 H1221.9V548.4 H1217.6V555.7 H1213.2V555.7 H1208.9V553.2 H1204.5V553.2 H1200.2V553.2 H1195.8V553.2 H1191.4V553.2 H1187.1V553.2 H1182.7V553.2 H1178.4V553.2 H1174V553.2 H1169.7V553.2 H1165.3V555.7 H1161V553.2 H1156.6V553.2 H1152.2V553.2 H1147.9V553.2 H1143.5V558.1 H1139.2V553.2 H1134.8V553.2 H1130.5V553.2 H1126.1V553.2 H1121.7V555.7 H1117.4V553.2 H1113V555.7 H1108.7V553.2 H1104.3V553.2 H1100V550.8 H1095.6V550.8 H1091.2V553.2 H1086.9V555.7 H1082.5V553.2 H1078.2V555.7 H1073.8V553.2 H1069.5V553.2 H1065.1V553.2 H1060.7V553.2 H1056.4V553.2 H1052V555.7 H1047.7V555.7 H1043.3V553.2 H1039V555.7 H1034.6V555.7 H1030.3V555.7 H1025.9V555.7 H1021.5V555.7 H1017.2V553.2 H1012.8V553.2 H1008.5V553.2 H1004.1V553.2 H999.8V553.2 H995.4V553.2 H991V553.2 H986.7V553.2 H982.3V553.2 H978V553.2 H973.6V555.7 H969.3V555.7 H964.9V553.2 H960.5V553.2 H956.2V555.7 H951.8V555.7 H947.5V555.7 H943.1V553.2 H938.8V555.7 H934.4V553.2 H930V553.2 H925.7V553.2 H921.3V553.2 H917V555.7 H912.6V553.2 H908.3V553.2 H903.9V555.7 H899.5V555.7 H895.2V558.1 H890.8V555.7 H886.5V553.2 H882.1V558.1 H877.8V553.2 H873.4V553.2 H869.1V553.2 H864.7V553.2 H860.3V555.7 H856V553.2 H851.6V553.2 H847.3V558.1 H842.9V553.2 H838.6V555.7 H834.2V555.7 H829.8V555.7 H825.5V555.7 H821.1V553.2 H816.8V553.2 H812.4V553.2 H808.1V553.2 H803.7V553.2 H799.3V553.2 H795V555.7 H790.6V555.7 H786.3V553.2 H781.9V553.2 H777.6V553.2 H773.2V553.2 H768.8V553.2 H764.5V555.7 H760.1V555.7 H755.8V555.7 H751.4V555.7 H747.1V555.7 H742.7V553.2 H738.4V555.7 H734V555.7 H729.6V553.2 H725.3V553.2 H720.9V555.7 H716.6V555.7 H712.2V555.7 H707.9V558.1 H703.5V555.7 H699.1V558.1 H694.8V553.2 H690.4V555.7 H686.1V553.2 H681.7V553.2 H677.4V553.2 H673V553.2 H668.6V553.2 H664.3V553.2 H659.9V553.2 H655.6V555.7 H651.2V553.2 H646.9V553.2 H642.5V553.2 H638.1V553.2 H633.8V555.7 H629.4V555.7 H625.1V553.2 H620.7V555.7 H616.4V553.2 H612V553.2 H607.7V555.7 H603.3V553.2 H598.9V550.8 H594.6V553.2 H590.2V550.8 H585.9V550.8 H581.5V553.2 H577.2V550.8 H572.8V553.2 H568.4V555.7 H564.1V553.2 H559.7V555.7 H555.4V553.2 H551V553.2 H546.7V553.2 H542.3V553.2 H537.9V553.2 H533.6V553.2 H529.2V553.2 H524.9V553.2 H520.5V553.2 H516.2V553.2 H511.8V555.7 H507.4V555.7 H503.1V555.7 H498.7V553.2 H494.4V553.2 H490V555.7 H485.7V553.2 H481.3V555.7 H476.9V553.2 H472.6V555.7 H468.2V555.7 H463.9V553.2 H459.5V553.2 H455.2V553.2 H450.8V553.2 H446.5V553.2 H442.1V555.7 H437.7V553.2 H433.4V553.2 H429V553.2 H424.7V553.2 H420.3V553.2 H416V555.7 H411.6V553.2 H407.2V553.2 H402.9V553.2 H398.5V555.7 H394.2V553.2 H389.8V553.2 H385.5V555.7 H381.1V555.7 H376.7V558.1 H372.4V558.1 H368V555.7 H363.7V555.7 H359.3V555.7 H355V555.7 H350.6V555.7 H346.2V555.7 H341.9V553.2 H337.5V553.2 H333.2V555.7 H328.8V558.1 H324.5V555.7 H320.1V558.1 H315.8V558.1 H311.4V555.7 H307V553.2 H302.7V553.2 H298.3V553.2 H294V553.2 H289.6V553.2 H285.3V553.2 H280.9V555.7 H276.5V555.7 H272.2V553.2 H267.8V555.7 H263.5V555.7 H259.1V555.7 H254.8V553.2 H250.4V553.2 H246V555.7 H241.7V558.1 H237.3V555.7 H233V553.2 H228.6V553.2 H224.3V553.2 H219.9V555.7 H215.5V555.7 H211.2V558.1 H206.8V558.1 H202.5V553.2 H198.1V553.2 H193.8V553.2 H189.4V553.2 H185.1V553.2 H180.7V553.2 H176.3V553.2 H172V553.2 H167.6V555.7 H163.3V553.2 H158.9V555.7 H154.6V553.2 H150.2V553.2 H145.8V553.2 H141.5V553.2 H137.1V553.2 H132.8V555.7 H128.4V553.2 H124.1V553.2 H119.7V553.2 H117Z" fill="#92008c"/>
<path d="M117 533.9V533.9 H119.7V533.9 H124.1V533.9 H128.4V533.9 H132.8V533.9 H137.1V536.3 H141.5V533.9 H145.8V533.9 H150.2V536.3 H154.6V533.9 H158.9V533.9 H163.3V536.3 H167.6V533.9 H172V533.9 H176.3V533.9 H180.7V536.3 H185.1V533.9 H189.4V533.9 H193.8V533.9 H198.1V533.9 H202.5V536.3 H206.8V538.7 H211.2V536.3 H215.5V536.3 H219.9V533.9 H224.3V536.3 H228.6V533.9 H233V533.9 H237.3V538.7 H241.7V536.3 H246V536.3 H250.4V533.9 H254.8V536.3 H259.1V536.3 H263.5V533.9 H267.8V536.3 H272.2V536.3 H276.5V536.3 H280.9V533.9 H285.3V536.3 H289.6V533.9 H294V533.9 H298.3V533.9 H302.7V536.3 H307V536.3 H311.4V538.7 H315.8V536.3 H320.1V533.9 H324.5V538.7 H328.8V533.9 H333.2V536.3 H337.5V533.9 H341.9V533.9 H346.2V533.9 H350.6V533.9 H355V538.7 H359.3V533.9 H363.7V536.3 H368V536.3 H372.4V536.3 H376.7V536.3 H381.1V536.3 H385.5V533.9 H389.8V533.9 H394.2V533.9 H398.5V533.9 H402.9V533.9 H407.2V533.9 H411.6V533.9 H416V531.4 H420.3V533.9 H424.7V533.9 H429V536.3 H433.4V533.9 H437.7V533.9 H442.1V533.9 H446.5V536.3 H450.8V533.9 H455.2V536.3 H459.5V533.9 H463.9V536.3 H468.2V536.3 H472.6V531.4 H476.9V533.9 H481.3V536.3 H485.7V536.3 H490V536.3 H494.4V533.9 H498.7V533.9 H503.1V533.9 H507.4V533.9 H511.8V536.3 H516.2V533.9 H520.5V533.9 H524.9V533.9 H529.2V533.9 H533.6V533.9 H537.9V533.9 H542.3V533.9 H546.7V533.9 H551V536.3 H555.4V533.9 H559.7V533.9 H564.1V533.9 H568.4V533.9 H572.8V533.9 H577.2V533.9 H581.5V533.9 H585.9V531.4 H590.2V531.4 H594.6V533.9 H598.9V531.4 H603.3V533.9 H607.7V533.9 H612V533.9 H616.4V533.9 H620.7V533.9 H625.1V533.9 H629.4V536.3 H633.8V533.9 H638.1V533.9 H642.5V533.9 H646.9V533.9 H651.2V533.9 H655.6V533.9 H659.9V533.9 H664.3V533.9 H668.6V536.3 H673V533.9 H677.4V536.3 H681.7V533.9 H686.1V536.3 H690.4V533.9 H694.8V536.3 H699.1V538.7 H703.5V536.3 H707.9V538.7 H712.2V533.9 H716.6V533.9 H720.9V533.9 H725.3V533.9 H729.6V533.9 H734V536.3 H738.4V536.3 H742.7V536.3 H747.1V536.3 H751.4V536.3 H755.8V536.3 H760.1V536.3 H764.5V533.9 H768.8V533.9 H773.2V533.9 H777.6V533.9 H781.9V533.9 H786.3V533.9 H790.6V533.9 H795V533.9 H799.3V533.9 H803.7V533.9 H808.1V536.3 H812.4V533.9 H816.8V533.9 H821.1V536.3 H825.5V538.7 H829.8V538.7 H834.2V533.9 H838.6V536.3 H842.9V538.7 H847.3V536.3 H851.6V533.9 H856V533.9 H860.3V536.3 H864.7V533.9 H869.1V536.3 H873.4V533.9 H877.8V536.3 H882.1V533.9 H886.5V536.3 H890.8V533.9 H895.2V536.3 H899.5V536.3 H903.9V536.3 H908.3V533.9 H912.6V536.3 H917V536.3 H921.3V533.9 H925.7V533.9 H930V533.9 H934.4V533.9 H938.8V533.9 H943.1V533.9 H947.5V536.3 H951.8V536.3 H956.2V536.3 H960.5V533.9 H964.9V533.9 H969.3V536.3 H973.6V533.9 H978V533.9 H982.3V536.3 H986.7V536.3 H991V536.3 H995.4V533.9 H999.8V533.9 H1004.1V533.9 H1008.5V533.9 H1012.8V536.3 H1017.2V536.3 H1021.5V533.9 H1025.9V533.9 H1030.3V533.9 H1034.6V533.9 H1039V536.3 H1043.3V533.9 H1047.7V533.9 H1052V536.3 H1056.4V533.9 H1060.7V533.9 H1065.1V533.9 H1069.5V536.3 H1073.8V533.9 H1078.2V533.9 H1082.5V533.9 H1086.9V533.9 H1091.2V531.4 H1095.6V531.4 H1100V533.9 H1104.3V536.3 H1108.7V533.9 H1113V533.9 H1117.4V533.9 H1121.7V536.3 H1126.1V533.9 H1130.5V533.9 H1134.8V533.9 H1139.2V536.3 H1143.5V533.9 H1147.9V533.9 H1152.2V536.3 H1156.6V533.9 H1161V533.9 H1165.3V536.3 H1169.7V533.9 H1174V536.3 H1178.4V533.9 H1182.7V536.3 H1187.1V533.9 H1191.4V536.3 H1195.8V533.9 H1200.2V533.9 H1204.5V536.3 H1208.9V536.3 H1213.2V533.9 H1217.6V519.3 H1221.9V497.5 H1226.3V478.2 H1230.7V468.5 H1235V463.6 H1239.4V463.6 H1243.7V466.1 H1248.1V470.9 H1252.4V473.3 H1256.8V478.2 H1261.2V480.6 H1265.5V483 H1269.9V478.2 H1274.2V470.9 H1278.6V458.8 H1282.9V451.5 H1287.3V441.8 H1291.7V434.6 H1296V432.1 H1300.4V434.6 H1304.7V439.4 H1309.1V446.7 H1313.4V446.7 H1317.8V449.1 H1322.1V453.9 H1326.5V451.5 H1330.9V444.3 H1335.2V441.8 H1339.6V437 H1343.9V432.1 H1348.3V432.1 H1352.6V427.3 H1357V429.7 H1361.4V434.6 H1365.7V434.6 H1370.1V437 H1374.4V439.4 H1378.8V441.8 H1383.1V439.4 H1387.5V437 H1391.9V434.6 H1396.2V434.6 H1400.6V429.7 H1404.9V429.7 H1409.3V434.6 H1413.6V437 H1418V439.4 H1422.4V439.4 H1426.7V437 H1431.1V441.8 H1435.4V439.4 H1439.8V439.4 H1444.1V439.4 H1448.5V439.4 H1452.9V441.8 H1457.2V441.8 H1461.6V439.4 H1465.9V439.4 H1470.3V439.4 H1474.6V439.4 H1479V439.4 H1483.3V439.4 H1487.7V439.4 H1492.1V439.4 H1496.4V439.4 H1500.8V439.4 H1505.1V441.8 H1509.5V441.8 H1513.8V439.4 H1518.2V439.4 H1522.6V441.8 H1526.9V441.8 H1531.3V439.4 H1535.6V439.4 H1540V441.8 H1544.3V439.4 H1548.7V439.4 H1553.1V439.4 H1557.4V437 H1561.8V441.8 H1566.1V437 H1570.5V439.4 H1574.8V437 H1579.2V439.4 H1583.6V439.4 H1587.9V439.4 H1592.3V439.4 H1596.6V437 H1601V437 H1605.3V437 H1609.7V437 H1614V439.4 H1618.4V437 H1622.8V439.4 H1627.1V439.4 H1631.5V439.4 H1635.8V437 H1640.2V439.4 H1644.5V437 H1648.9V434.6 H1653.3V434.6 H1657.6V432.1 H1662V432.1 H1666.3V432.1 H1670.7V437 H1675V434.6 H1679.4V437 H1683.8V437 H1688.1V437 H1692.5V439.4 H1696.8V437 H1701.2V437 H1705.5V437 H1709.9V439.4 H1714.3V437 H1718.6V439.4 H1723V437 H1727.3V439.4 H1731.7V439.4 H1736V437 H1740.4V437 H1744.7V437 H1749.1V439.4 H1753.5V437 H1757.8V437 H1762.2V437 H1766.5V437 H1770.9V437 H1775.2V437 H1779.6V437 H1784V437 H1788.3V439.4 H1792.7V437 H1797V437 H1801.4V439.4 H1805.7V437 H1810.1V439.4 H1814.5V437 H1818.8V437 H1823.2V437 H1827.5V437 H1831.9V439.4 H1836.2V439.4 H1840.6V439.4 H1845V437 H1849.3V437 H1853.7V437 H1858V437 H1862.4V437 H1866.7V437 H1871.1V434.6 H1875.5V437 H1879.8V434.6 H1884.2V437 H1888.5V437 H1892.9V434.6 H1897.2V434.6 H1901.6V437 H1905.9V434.6 H1910.3V437 H1914.7V437 H1919V437 H1923.4V439.4 H1927.7V437 H1932.1V437 H1936.4V439.4 H1940.8V437 H1945.2V437 H1949.5V437 H1953.9V437 H1958.2V439.4 H1962.6V439.4 H1966.9V437 H1971.3V439.4 H1975.7V437 H1980V437 H1984.4V437 H1988.7V437 H1993.1V437 H1997.4V437 H2001.8V437 H2006.2V437 H2010.5V437 H2014.9V437 H2019.2V439.4 H2023.6V434.6 H2027.9V439.4 H2032.3V437 H2036.6V437 H2041V434.6 H2045.4V434.6 H2049.7V437 H2054.1V439.4 H2058.4V439.4 H2062.8V437 H2067.1V437 H2071.5V437 H2075.9V437 H2080.2V437 H2084.6V437 H2088.9V437 H2093.3V437 H2097.6V439.4 H2102V439.4 H2106.4V437 H2110.7V437 H2115.1V437 H2119.4V437 H2123.8V437 H2128.1V439.4 H2132.5V437 H2136.9V439.4 H2141.2V439.4 H2145.6V437 H2149.9V439.4 H2154.3V437 H2158.6V437 H2163V437 H2167.3V437 H2171.7V437 H2176.1V439.4 H2180.4V439.4 H2184.8V437 H2189.1V437 H2193.5V437 H2197.8V439.4 H2202.2V437 H2206.6V437 H2210.9V439.4 H2215.3V437 H2219.6V439.4 H2224V437 H2228.3V439.4 H2232.7V437 H2237.1V437 H2241.4V439.4 H2245.8V437 H2250.1V437 H2254.5V437 H2258.8V437 H2263.2V439.4 H2267.6V439.4 H2271.9V437 H2276.3V437 H2280.6V439.4 H2285V437 H2289.3V437 H2293.7V439.4 H2298V437 H2302.4V439.4 H2303V458.8V458.8 H2302.4V458.8 H2298V458.8 H2293.7V461.2 H2289.3V461.2 H2285V461.2 H2280.6V461.2 H2276.3V458.8 H2271.9V461.2 H2267.6V461.2 H2263.2V463.6 H2258.8V461.2 H2254.5V458.8 H2250.1V461.2 H2245.8V461.2 H2241.4V458.8 H2237.1V461.2 H2232.7V461.2 H2228.3V461.2 H2224V461.2 H2219.6V461.2 H2215.3V461.2 H2210.9V461.2 H2206.6V461.2 H2202.2V461.2 H2197.8V458.8 H2193.5V461.2 H2189.1V458.8 H2184.8V461.2 H2180.4V461.2 H2176.1V461.2 H2171.7V461.2 H2167.3V461.2 H2163V461.2 H2158.6V461.2 H2154.3V458.8 H2149.9V461.2 H2145.6V461.2 H2141.2V458.8 H2136.9V463.6 H2132.5V461.2 H2128.1V461.2 H2123.8V461.2 H2119.4V458.8 H2115.1V461.2 H2110.7V461.2 H2106.4V461.2 H2102V461.2 H2097.6V461.2 H2093.3V463.6 H2088.9V463.6 H2084.6V458.8 H2080.2V458.8 H2075.9V461.2 H2071.5V461.2 H2067.1V461.2 H2062.8V461.2 H2058.4V458.8 H2054.1V458.8 H2049.7V461.2 H2045.4V458.8 H2041V461.2 H2036.6V461.2 H2032.3V461.2 H2027.9V458.8 H2023.6V458.8 H2019.2V461.2 H2014.9V461.2 H2010.5V461.2 H2006.2V461.2 H2001.8V458.8 H1997.4V458.8 H1993.1V458.8 H1988.7V458.8 H1984.4V461.2 H1980V461.2 H1975.7V458.8 H1971.3V461.2 H1966.9V461.2 H1962.6V461.2 H1958.2V461.2 H1953.9V458.8 H1949.5V461.2 H1945.2V458.8 H1940.8V461.2 H1936.4V461.2 H1932.1V463.6 H1927.7V461.2 H1923.4V461.2 H1919V461.2 H1914.7V458.8 H1910.3V458.8 H1905.9V461.2 H1901.6V461.2 H1897.2V461.2 H1892.9V461.2 H1888.5V458.8 H1884.2V461.2 H1879.8V461.2 H1875.5V458.8 H1871.1V461.2 H1866.7V461.2 H1862.4V461.2 H1858V458.8 H1853.7V461.2 H1849.3V461.2 H1845V461.2 H1840.6V461.2 H1836.2V461.2 H1831.9V461.2 H1827.5V461.2 H1823.2V461.2 H1818.8V463.6 H1814.5V463.6 H1810.1V463.6 H1805.7V461.2 H1801.4V463.6 H1797V463.6 H1792.7V463.6 H1788.3V463.6 H1784V463.6 H1779.6V463.6 H1775.2V461.2 H1770.9V461.2 H1766.5V461.2 H1762.2V461.2 H1757.8V461.2 H1753.5V458.8 H1749.1V461.2 H1744.7V458.8 H1740.4V461.2 H1736V461.2 H1731.7V461.2 H1727.3V463.6 H1723V461.2 H1718.6V458.8 H1714.3V461.2 H1709.9V463.6 H1705.5V463.6 H1701.2V463.6 H1696.8V463.6 H1692.5V458.8 H1688.1V458.8 H1683.8V461.2 H1679.4V461.2 H1675V456.4 H1670.7V458.8 H1666.3V456.4 H1662V458.8 H1657.6V458.8 H1653.3V458.8 H1648.9V461.2 H1644.5V458.8 H1640.2V461.2 H1635.8V461.2 H1631.5V461.2 H1627.1V463.6 H1622.8V463.6 H1618.4V461.2 H1614V463.6 H1609.7V461.2 H1605.3V463.6 H1601V463.6 H1596.6V461.2 H1592.3V463.6 H1587.9V463.6 H1583.6V461.2 H1579.2V463.6 H1574.8V463.6 H1570.5V461.2 H1566.1V463.6 H1561.8V463.6 H1557.4V463.6 H1553.1V463.6 H1548.7V461.2 H1544.3V463.6 H1540V463.6 H1535.6V463.6 H1531.3V461.2 H1526.9V461.2 H1522.6V463.6 H1518.2V463.6 H1513.8V463.6 H1509.5V463.6 H1505.1V463.6 H1500.8V463.6 H1496.4V461.2 H1492.1V463.6 H1487.7V463.6 H1483.3V461.2 H1479V463.6 H1474.6V463.6 H1470.3V461.2 H1465.9V463.6 H1461.6V463.6 H1457.2V461.2 H1452.9V463.6 H1448.5V463.6 H1444.1V461.2 H1439.8V466.1 H1435.4V466.1 H1431.1V466.1 H1426.7V463.6 H1422.4V468.5 H1418V466.1 H1413.6V463.6 H1409.3V463.6 H1404.9V461.2 H1400.6V463.6 H1396.2V468.5 H1391.9V470.9 H1387.5V473.3 H1383.1V473.3 H1378.8V473.3 H1374.4V470.9 H1370.1V466.1 H1365.7V466.1 H1361.4V463.6 H1357V461.2 H1352.6V461.2 H1348.3V463.6 H1343.9V468.5 H1339.6V473.3 H1335.2V475.7 H1330.9V478.2 H1326.5V483 H1322.1V478.2 H1317.8V475.7 H1313.4V473.3 H1309.1V468.5 H1304.7V463.6 H1300.4V463.6 H1296V463.6 H1291.7V470.9 H1287.3V480.6 H1282.9V487.8 H1278.6V500 H1274.2V504.8 H1269.9V509.6 H1265.5V507.2 H1261.2V507.2 H1256.8V502.4 H1252.4V500 H1248.1V495.1 H1243.7V492.7 H1239.4V492.7 H1235V497.5 H1230.7V509.6 H1226.3V524.2 H1221.9V548.4 H1217.6V555.7 H1213.2V555.7 H1208.9V550.8 H1204.5V553.2 H1200.2V553.2 H1195.8V553.2 H1191.4V553.2 H1187.1V550.8 H1182.7V553.2 H1178.4V553.2 H1174V550.8 H1169.7V550.8 H1165.3V550.8 H1161V550.8 H1156.6V553.2 H1152.2V553.2 H1147.9V553.2 H1143.5V553.2 H1139.2V553.2 H1134.8V553.2 H1130.5V550.8 H1126.1V550.8 H1121.7V553.2 H1117.4V550.8 H1113V553.2 H1108.7V553.2 H1104.3V553.2 H1100V550.8 H1095.6V548.4 H1091.2V553.2 H1086.9V553.2 H1082.5V553.2 H1078.2V553.2 H1073.8V553.2 H1069.5V553.2 H1065.1V550.8 H1060.7V553.2 H1056.4V553.2 H1052V550.8 H1047.7V553.2 H1043.3V550.8 H1039V553.2 H1034.6V553.2 H1030.3V550.8 H1025.9V550.8 H1021.5V553.2 H1017.2V550.8 H1012.8V550.8 H1008.5V550.8 H1004.1V553.2 H999.8V553.2 H995.4V553.2 H991V553.2 H986.7V550.8 H982.3V553.2 H978V550.8 H973.6V555.7 H969.3V553.2 H964.9V550.8 H960.5V553.2 H956.2V553.2 H951.8V550.8 H947.5V550.8 H943.1V550.8 H938.8V550.8 H934.4V553.2 H930V550.8 H925.7V553.2 H921.3V553.2 H917V550.8 H912.6V553.2 H908.3V550.8 H903.9V550.8 H899.5V553.2 H895.2V553.2 H890.8V553.2 H886.5V550.8 H882.1V555.7 H877.8V550.8 H873.4V550.8 H869.1V553.2 H864.7V553.2 H860.3V553.2 H856V553.2 H851.6V553.2 H847.3V555.7 H842.9V553.2 H838.6V555.7 H834.2V553.2 H829.8V553.2 H825.5V555.7 H821.1V553.2 H816.8V550.8 H812.4V553.2 H808.1V553.2 H803.7V553.2 H799.3V550.8 H795V553.2 H790.6V550.8 H786.3V550.8 H781.9V553.2 H777.6V553.2 H773.2V550.8 H768.8V553.2 H764.5V550.8 H760.1V553.2 H755.8V553.2 H751.4V553.2 H747.1V555.7 H742.7V550.8 H738.4V553.2 H734V550.8 H729.6V550.8 H725.3V550.8 H720.9V553.2 H716.6V553.2 H712.2V555.7 H707.9V553.2 H703.5V555.7 H699.1V553.2 H694.8V553.2 H690.4V550.8 H686.1V553.2 H681.7V550.8 H677.4V553.2 H673V550.8 H668.6V553.2 H664.3V553.2 H659.9V553.2 H655.6V550.8 H651.2V553.2 H646.9V550.8 H642.5V550.8 H638.1V553.2 H633.8V553.2 H629.4V550.8 H625.1V553.2 H620.7V550.8 H616.4V550.8 H612V553.2 H607.7V553.2 H603.3V548.4 H598.9V550.8 H594.6V553.2 H590.2V550.8 H585.9V550.8 H581.5V550.8 H577.2V548.4 H572.8V550.8 H568.4V553.2 H564.1V553.2 H559.7V550.8 H555.4V553.2 H551V553.2 H546.7V550.8 H542.3V550.8 H537.9V550.8 H533.6V550.8 H529.2V553.2 H524.9V553.2 H520.5V553.2 H516.2V553.2 H511.8V550.8 H507.4V550.8 H503.1V553.2 H498.7V550.8 H494.4V553.2 H490V553.2 H485.7V553.2 H481.3V553.2 H476.9V553.2 H472.6V553.2 H468.2V553.2 H463.9V553.2 H459.5V553.2 H455.2V553.2 H450.8V553.2 H446.5V550.8 H442.1V550.8 H437.7V553.2 H433.4V553.2 H429V550.8 H424.7V550.8 H420.3V550.8 H416V553.2 H411.6V550.8 H407.2V550.8 H402.9V553.2 H398.5V550.8 H394.2V553.2 H389.8V553.2 H385.5V553.2 H381.1V555.7 H376.7V553.2 H372.4V555.7 H368V555.7 H363.7V553.2 H359.3V555.7 H355V555.7 H350.6V553.2 H346.2V550.8 H341.9V553.2 H337.5V553.2 H333.2V553.2 H328.8V553.2 H324.5V555.7 H320.1V553.2 H315.8V555.7 H311.4V555.7 H307V550.8 H302.7V553.2 H298.3V553.2 H294V553.2 H289.6V553.2 H285.3V550.8 H280.9V550.8 H276.5V550.8 H272.2V553.2 H267.8V550.8 H263.5V553.2 H259.1V553.2 H254.8V550.8 H250.4V550.8 H246V555.7 H241.7V553.2 H237.3V555.7 H233V550.8 H228.6V553.2 H224.3V553.2 H219.9V553.2 H215.5V553.2 H211.2V555.7 H206.8V555.7 H202.5V553.2 H198.1V553.2 H193.8V550.8 H189.4V553.2 H185.1V553.2 H180.7V553.2 H176.3V553.2 H172V550.8 H167.6V550.8 H163.3V553.2 H158.9V553.2 H154.6V553.2 H150.2V550.8 H145.8V553.2 H141.5V550.8 H137.1V550.8 H132.8V553.2 H128.4V553.2 H124.1V553.2 H119.7V553.2 H117Z" fill="#f000dc"/>
<path d="M146.7 536.3h4.4v2.4h-4.4zM974.4 546h4.4v2.4h-4.4zM421.7 536.3h4.4v2.4h-4.4zM624.2 546h4.4v2.4h-4.4zM440.6 546h4.4v2.4h-4.4zM1560.2 444.3h4.4v2.4h-4.4zM1285.1 463.6h4.4v2.4h-4.4zM1017.3 550.8h4.4v2.4h-4.4zM322.5 536.3h4.4v2.4h-4.4zM2164.1 446.7h4.4v2.4h-4.4zM551.7 541.1h4.4v2.4h-4.4zM913.6 550.8h4.4v2.4h-4.4zM577.5 538.7h4.4v2.4h-4.4zM1392.2 453.9h4.4v2.4h-4.4zM2194.4 456.4h4.4v2.4h-4.4zM893.2 538.7h4.4v2.4h-4.4zM1939.2 458.8h4.4v2.4h-4.4zM186.1 546h4.4v2.4h-4.4zM2008.7 451.5h4.4v2.4h-4.4zM594.9 548.4h4.4v2.4h-4.4zM1707.4 441.8h4.4v2.4h-4.4zM1513.9 444.3h4.4v2.4h-4.4zM210.1 541.1h4.4v2.4h-4.4zM847.2 541.1h4.4v2.4h-4.4zM1526.7 458.8h4.4v2.4h-4.4zM2210.9 458.8h4.4v2.4h-4.4zM2280.9 453.9h4.4v2.4h-4.4zM786.2 538.7h4.4v2.4h-4.4zM1476.7 451.5h4.4v2.4h-4.4zM1587.1 441.8h4.4v2.4h-4.4zM539.3 548.4h4.4v2.4h-4.4zM1428 456.4h4.4v2.4h-4.4zM328 541.1h4.4v2.4h-4.4zM2099.5 451.5h4.4v2.4h-4.4zM2276.8 441.8h4.4v2.4h-4.4zM1109.2 548.4h4.4v2.4h-4.4zM1087.2 548.4h4.4v2.4h-4.4zM1341.7 441.8h4.4v2.4h-4.4zM335 550.8h4.4v2.4h-4.4zM379.5 538.7h4.4v2.4h-4.4zM849.1 546h4.4v2.4h-4.4zM1977.6 449.1h4.4v2.4h-4.4zM1203.5 548.4h4.4v2.4h-4.4zM724.7 541.1h4.4v2.4h-4.4zM1452.7 453.9h4.4v2.4h-4.4zM202.8 536.3h4.4v2.4h-4.4zM420 546h4.4v2.4h-4.4zM1627.1 458.8h4.4v2.4h-4.4zM1789.4 444.3h4.4v2.4h-4.4zM1785 458.8h4.4v2.4h-4.4zM878.4 536.3h4.4v2.4h-4.4zM936 538.7h4.4v2.4h-4.4zM503 536.3h4.4v2.4h-4.4zM391.6 548.4h4.4v2.4h-4.4zM228.7 543.6h4.4v2.4h-4.4zM569.2 538.7h4.4v2.4h-4.4zM1905.1 441.8h4.4v2.4h-4.4zM519.8 541.1h4.4v2.4h-4.4zM1631.5 449.1h4.4v2.4h-4.4zM1989.9 446.7h4.4v2.4h-4.4zM1259.8 497.5h4.4v2.4h-4.4zM1123.9 546h4.4v2.4h-4.4zM1135.5 536.3h4.4v2.4h-4.4zM388.6 546h4.4v2.4h-4.4zM1740 458.8h4.4v2.4h-4.4zM1621 451.5h4.4v2.4h-4.4zM481.4 548.4h4.4v2.4h-4.4zM378.4 541.1h4.4v2.4h-4.4zM425.9 541.1h4.4v2.4h-4.4zM788.1 541.1h4.4v2.4h-4.4zM1666.6 444.3h4.4v2.4h-4.4zM648 546h4.4v2.4h-4.4zM1718.9 456.4h4.4v2.4h-4.4zM191.7 543.6h4.4v2.4h-4.4zM2067.5 444.3h4.4v2.4h-4.4zM559.7 548.4h4.4v2.4h-4.4zM911.4 541.1h4.4v2.4h-4.4zM1898.4 444.3h4.4v2.4h-4.4zM551.6 538.7h4.4v2.4h-4.4zM871.7 546h4.4v2.4h-4.4zM921 546h4.4v2.4h-4.4zM263.5 538.7h4.4v2.4h-4.4zM1479.2 451.5h4.4v2.4h-4.4zM1207.2 548.4h4.4v2.4h-4.4zM723.2 538.7h4.4v2.4h-4.4zM193.4 543.6h4.4v2.4h-4.4zM766.3 541.1h4.4v2.4h-4.4zM132.1 533.9h4.4v2.4h-4.4zM945.8 546h4.4v2.4h-4.4zM773.5 548.4h4.4v2.4h-4.4zM1380.2 453.9h4.4v2.4h-4.4zM1810.3 441.8h4.4v2.4h-4.4zM1436.3 458.8h4.4v2.4h-4.4zM1296.5 441.8h4.4v2.4h-4.4zM328.8 543.6h4.4v2.4h-4.4zM528 541.1h4.4v2.4h-4.4zM1299.8 461.2h4.4v2.4h-4.4zM1584.6 451.5h4.4v2.4h-4.4zM1986.9 444.3h4.4v2.4h-4.4zM963.1 546h4.4v2.4h-4.4zM1325.5 456.4h4.4v2.4h-4.4zM1013.3 548.4h4.4v2.4h-4.4zM647 546h4.4v2.4h-4.4zM224.7 550.8h4.4v2.4h-4.4zM1607.9 446.7h4.4v2.4h-4.4zM2258.5 453.9h4.4v2.4h-4.4zM254.2 538.7h4.4v2.4h-4.4zM1189.4 550.8h4.4v2.4h-4.4zM426 536.3h4.4v2.4h-4.4zM800 536.3h4.4v2.4h-4.4zM1009.4 543.6h4.4v2.4h-4.4zM1077.9 536.3h4.4v2.4h-4.4zM170.4 548.4h4.4v2.4h-4.4zM1077.1 543.6h4.4v2.4h-4.4zM1159.8 546h4.4v2.4h-4.4zM2079.1 456.4h4.4v2.4h-4.4zM1701.6 444.3h4.4v2.4h-4.4zM487 536.3h4.4v2.4h-4.4zM1988.4 439.4h4.4v2.4h-4.4zM1358.1 456.4h4.4v2.4h-4.4zM820.9 541.1h4.4v2.4h-4.4zM1029.1 550.8h4.4v2.4h-4.4zM1608.1 456.4h4.4v2.4h-4.4zM204.5 546h4.4v2.4h-4.4zM1100.9 541.1h4.4v2.4h-4.4zM1896.1 451.5h4.4v2.4h-4.4zM2100.3 453.9h4.4v2.4h-4.4zM2099.3 446.7h4.4v2.4h-4.4zM1329.5 468.5h4.4v2.4h-4.4zM1106.5 536.3h4.4v2.4h-4.4zM1393.4 461.2h4.4v2.4h-4.4zM2013.5 441.8h4.4v2.4h-4.4zM948.9 538.7h4.4v2.4h-4.4zM861.7 550.8h4.4v2.4h-4.4zM1035.9 538.7h4.4v2.4h-4.4zM712.8 541.1h4.4v2.4h-4.4zM1576.6 446.7h4.4v2.4h-4.4zM525.1 538.7h4.4v2.4h-4.4zM685.4 548.4h4.4v2.4h-4.4zM488.5 546h4.4v2.4h-4.4zM355.3 546h4.4v2.4h-4.4zM698.5 546h4.4v2.4h-4.4zM1059.8 536.3h4.4v2.4h-4.4zM325.5 548.4h4.4v2.4h-4.4zM1298.8 446.7h4.4v2.4h-4.4zM886 546h4.4v2.4h-4.4zM1169.1 536.3h4.4v2.4h-4.4zM1427.1 446.7h4.4v2.4h-4.4zM1961.5 449.1h4.4v2.4h-4.4zM1803 439.4h4.4v2.4h-4.4zM1657.9 449.1h4.4v2.4h-4.4zM1970.7 456.4h4.4v2.4h-4.4zM1319.4 463.6h4.4v2.4h-4.4zM1788.3 444.3h4.4v2.4h-4.4zM1305.2 458.8h4.4v2.4h-4.4zM1412.9 449.1h4.4v2.4h-4.4zM1981.4 458.8h4.4v2.4h-4.4zM683.3 536.3h4.4v2.4h-4.4zM1454.2 444.3h4.4v2.4h-4.4zM2229 449.1h4.4v2.4h-4.4zM1281.7 480.6h4.4v2.4h-4.4zM2011.8 441.8h4.4v2.4h-4.4zM1106.1 538.7h4.4v2.4h-4.4zM1121.5 536.3h4.4v2.4h-4.4zM2027.5 446.7h4.4v2.4h-4.4zM966.6 548.4h4.4v2.4h-4.4zM1910.8 444.3h4.4v2.4h-4.4zM1207.5 546h4.4v2.4h-4.4zM528.5 536.3h4.4v2.4h-4.4zM1985 441.8h4.4v2.4h-4.4zM1659.5 451.5h4.4v2.4h-4.4zM1406.7 441.8h4.4v2.4h-4.4zM1985.5 453.9h4.4v2.4h-4.4zM274.6 548.4h4.4v2.4h-4.4zM1504.7 446.7h4.4v2.4h-4.4zM486.7 536.3h4.4v2.4h-4.4zM1884.7 453.9h4.4v2.4h-4.4zM876.4 538.7h4.4v2.4h-4.4zM279.4 541.1h4.4v2.4h-4.4zM767.8 536.3h4.4v2.4h-4.4zM767.5 548.4h4.4v2.4h-4.4zM261.6 541.1h4.4v2.4h-4.4zM1238.5 466.1h4.4v2.4h-4.4zM199.3 536.3h4.4v2.4h-4.4zM432.8 550.8h4.4v2.4h-4.4zM1994.5 453.9h4.4v2.4h-4.4zM2076.5 444.3h4.4v2.4h-4.4zM662.5 548.4h4.4v2.4h-4.4zM1438.7 461.2h4.4v2.4h-4.4zM900.9 541.1h4.4v2.4h-4.4zM1681.3 453.9h4.4v2.4h-4.4zM480.3 538.7h4.4v2.4h-4.4zM149.8 543.6h4.4v2.4h-4.4zM2128.9 449.1h4.4v2.4h-4.4zM443.3 546h4.4v2.4h-4.4zM1533.5 441.8h4.4v2.4h-4.4zM2108.5 451.5h4.4v2.4h-4.4zM1187.1 541.1h4.4v2.4h-4.4zM469.1 541.1h4.4v2.4h-4.4zM915.4 538.7h4.4v2.4h-4.4zM1525.9 453.9h4.4v2.4h-4.4zM2195.7 458.8h4.4v2.4h-4.4zM1133.4 546h4.4v2.4h-4.4zM935.8 541.1h4.4v2.4h-4.4zM1353.2 458.8h4.4v2.4h-4.4zM211.3 541.1h4.4v2.4h-4.4zM851.7 548.4h4.4v2.4h-4.4zM2187.4 449.1h4.4v2.4h-4.4zM293.5 543.6h4.4v2.4h-4.4zM1397.9 453.9h4.4v2.4h-4.4zM1809.1 446.7h4.4v2.4h-4.4zM1314.7 466.1h4.4v2.4h-4.4zM179.6 538.7h4.4v2.4h-4.4zM1615.6 461.2h4.4v2.4h-4.4zM2171.6 444.3h4.4v2.4h-4.4zM2234.5 444.3h4.4v2.4h-4.4zM1104.8 536.3h4.4v2.4h-4.4zM1430.8 449.1h4.4v2.4h-4.4zM1610.1 458.8h4.4v2.4h-4.4zM397.9 546h4.4v2.4h-4.4zM1428.5 444.3h4.4v2.4h-4.4zM196.6 548.4h4.4v2.4h-4.4zM1631.9 451.5h4.4v2.4h-4.4zM342.7 548.4h4.4v2.4h-4.4zM987.9 541.1h4.4v2.4h-4.4zM1330 458.8h4.4v2.4h-4.4zM2194 446.7h4.4v2.4h-4.4zM1593.7 456.4h4.4v2.4h-4.4zM2149 441.8h4.4v2.4h-4.4zM858.7 550.8h4.4v2.4h-4.4zM1438.3 449.1h4.4v2.4h-4.4zM2037 439.4h4.4v2.4h-4.4zM670.9 536.3h4.4v2.4h-4.4zM1578.4 451.5h4.4v2.4h-4.4zM782.1 541.1h4.4v2.4h-4.4zM670.9 546h4.4v2.4h-4.4zM1772.3 446.7h4.4v2.4h-4.4zM2009.4 439.4h4.4v2.4h-4.4zM1350.4 434.6h4.4v2.4h-4.4zM375.3 543.6h4.4v2.4h-4.4zM309.2 536.3h4.4v2.4h-4.4zM411.7 541.1h4.4v2.4h-4.4zM1925.9 444.3h4.4v2.4h-4.4zM386 546h4.4v2.4h-4.4zM1897.3 456.4h4.4v2.4h-4.4zM226.9 538.7h4.4v2.4h-4.4zM1063 550.8h4.4v2.4h-4.4zM1294 461.2h4.4v2.4h-4.4zM607.7 541.1h4.4v2.4h-4.4zM1613.9 444.3h4.4v2.4h-4.4zM1256.1 497.5h4.4v2.4h-4.4zM1894 451.5h4.4v2.4h-4.4zM1922.8 458.8h4.4v2.4h-4.4zM1436 444.3h4.4v2.4h-4.4zM602.8 536.3h4.4v2.4h-4.4zM2118.4 449.1h4.4v2.4h-4.4zM1431.1 458.8h4.4v2.4h-4.4zM1622.5 446.7h4.4v2.4h-4.4zM1393.8 439.4h4.4v2.4h-4.4zM671 541.1h4.4v2.4h-4.4zM1848.4 451.5h4.4v2.4h-4.4zM1433.4 449.1h4.4v2.4h-4.4zM885 541.1h4.4v2.4h-4.4zM228.9 541.1h4.4v2.4h-4.4zM2097.8 453.9h4.4v2.4h-4.4zM661.9 543.6h4.4v2.4h-4.4zM1739.6 441.8h4.4v2.4h-4.4zM894.7 543.6h4.4v2.4h-4.4zM528.5 548.4h4.4v2.4h-4.4zM161.2 548.4h4.4v2.4h-4.4zM1575.4 449.1h4.4v2.4h-4.4zM747.2 548.4h4.4v2.4h-4.4zM1667.6 437h4.4v2.4h-4.4zM810.3 536.3h4.4v2.4h-4.4zM1487.4 449.1h4.4v2.4h-4.4zM811 546h4.4v2.4h-4.4zM672.7 536.3h4.4v2.4h-4.4zM1851.3 456.4h4.4v2.4h-4.4zM1875.8 449.1h4.4v2.4h-4.4zM1679.9 453.9h4.4v2.4h-4.4zM204.4 538.7h4.4v2.4h-4.4zM893.2 546h4.4v2.4h-4.4zM850.9 546h4.4v2.4h-4.4zM679.9 550.8h4.4v2.4h-4.4zM1066.7 543.6h4.4v2.4h-4.4zM1486.8 458.8h4.4v2.4h-4.4zM1345.7 439.4h4.4v2.4h-4.4zM1078.5 543.6h4.4v2.4h-4.4zM277.7 548.4h4.4v2.4h-4.4zM788.6 548.4h4.4v2.4h-4.4zM929 550.8h4.4v2.4h-4.4zM1690.3 444.3h4.4v2.4h-4.4zM1645.4 437h4.4v2.4h-4.4zM304.4 543.6h4.4v2.4h-4.4zM789.1 541.1h4.4v2.4h-4.4zM1653.7 446.7h4.4v2.4h-4.4zM1451.7 456.4h4.4v2.4h-4.4zM1937.2 439.4h4.4v2.4h-4.4zM1922.2 453.9h4.4v2.4h-4.4zM614 536.3h4.4v2.4h-4.4zM540.1 536.3h4.4v2.4h-4.4zM1360.6 461.2h4.4v2.4h-4.4zM1176.9 538.7h4.4v2.4h-4.4zM490.5 550.8h4.4v2.4h-4.4zM1308.7 446.7h4.4v2.4h-4.4zM2101.2 446.7h4.4v2.4h-4.4zM2261.7 449.1h4.4v2.4h-4.4zM671.7 538.7h4.4v2.4h-4.4zM155.9 548.4h4.4v2.4h-4.4zM832.7 546h4.4v2.4h-4.4zM1950.4 446.7h4.4v2.4h-4.4zM1230.5 492.7h4.4v2.4h-4.4zM1517.6 449.1h4.4v2.4h-4.4zM551.3 538.7h4.4v2.4h-4.4zM165.4 546h4.4v2.4h-4.4zM1513.7 456.4h4.4v2.4h-4.4zM1076.1 546h4.4v2.4h-4.4zM1336.1 466.1h4.4v2.4h-4.4zM1317.1 466.1h4.4v2.4h-4.4zM1424.6 441.8h4.4v2.4h-4.4zM287.7 548.4h4.4v2.4h-4.4zM1625.8 449.1h4.4v2.4h-4.4zM2107.3 441.8h4.4v2.4h-4.4zM1713.6 449.1h4.4v2.4h-4.4zM349 536.3h4.4v2.4h-4.4zM176.2 538.7h4.4v2.4h-4.4zM1809.9 449.1h4.4v2.4h-4.4zM222.9 543.6h4.4v2.4h-4.4zM2236.4 453.9h4.4v2.4h-4.4zM774.5 543.6h4.4v2.4h-4.4zM918.2 538.7h4.4v2.4h-4.4zM1551.5 441.8h4.4v2.4h-4.4zM1149.2 548.4h4.4v2.4h-4.4zM1765.4 451.5h4.4v2.4h-4.4zM1929.2 458.8h4.4v2.4h-4.4zM708.2 550.8h4.4v2.4h-4.4zM2063.8 449.1h4.4v2.4h-4.4zM414.8 543.6h4.4v2.4h-4.4zM1200.5 550.8h4.4v2.4h-4.4zM654.4 546h4.4v2.4h-4.4zM1770.9 451.5h4.4v2.4h-4.4zM738.1 548.4h4.4v2.4h-4.4zM675 548.4h4.4v2.4h-4.4zM2052.9 449.1h4.4v2.4h-4.4zM233.2 538.7h4.4v2.4h-4.4zM264.5 538.7h4.4v2.4h-4.4zM894.2 543.6h4.4v2.4h-4.4zM1870.1 437h4.4v2.4h-4.4zM1739.1 439.4h4.4v2.4h-4.4zM1670.9 434.6h4.4v2.4h-4.4zM895.3 548.4h4.4v2.4h-4.4zM2022.3 439.4h4.4v2.4h-4.4zM964.2 548.4h4.4v2.4h-4.4zM505.1 541.1h4.4v2.4h-4.4zM688.5 538.7h4.4v2.4h-4.4zM1185.1 536.3h4.4v2.4h-4.4zM455.3 550.8h4.4v2.4h-4.4zM1778.3 451.5h4.4v2.4h-4.4zM415.6 536.3h4.4v2.4h-4.4zM1471.7 453.9h4.4v2.4h-4.4zM142.3 550.8h4.4v2.4h-4.4zM937.1 538.7h4.4v2.4h-4.4zM1502 458.8h4.4v2.4h-4.4zM880.6 543.6h4.4v2.4h-4.4zM226.4 541.1h4.4v2.4h-4.4zM2071.9 458.8h4.4v2.4h-4.4zM881.1 548.4h4.4v2.4h-4.4zM2283.9 444.3h4.4v2.4h-4.4zM1980.5 444.3h4.4v2.4h-4.4zM2218.4 456.4h4.4v2.4h-4.4zM2231.6 446.7h4.4v2.4h-4.4zM1612.2 453.9h4.4v2.4h-4.4zM1386.8 441.8h4.4v2.4h-4.4zM1569.4 456.4h4.4v2.4h-4.4zM1517.3 458.8h4.4v2.4h-4.4zM2215.6 451.5h4.4v2.4h-4.4zM895.2 543.6h4.4v2.4h-4.4zM515.6 538.7h4.4v2.4h-4.4zM2248.9 446.7h4.4v2.4h-4.4zM1136.6 548.4h4.4v2.4h-4.4zM1853.9 439.4h4.4v2.4h-4.4zM1016.6 543.6h4.4v2.4h-4.4zM635.8 546h4.4v2.4h-4.4zM1467.7 458.8h4.4v2.4h-4.4zM413.1 538.7h4.4v2.4h-4.4zM784.1 543.6h4.4v2.4h-4.4zM673.6 543.6h4.4v2.4h-4.4zM873 536.3h4.4v2.4h-4.4zM1916.8 449.1h4.4v2.4h-4.4zM2078.7 449.1h4.4v2.4h-4.4zM1990.2 451.5h4.4v2.4h-4.4zM1198.1 548.4h4.4v2.4h-4.4zM905.3 550.8h4.4v2.4h-4.4zM1399.7 461.2h4.4v2.4h-4.4zM323 543.6h4.4v2.4h-4.4zM806 548.4h4.4v2.4h-4.4zM2101.2 456.4h4.4v2.4h-4.4zM963.8 536.3h4.4v2.4h-4.4zM2239 441.8h4.4v2.4h-4.4zM1916.7 449.1h4.4v2.4h-4.4zM1710.6 453.9h4.4v2.4h-4.4zM635.1 541.1h4.4v2.4h-4.4zM956.1 546h4.4v2.4h-4.4zM1599.1 461.2h4.4v2.4h-4.4zM1289.3 453.9h4.4v2.4h-4.4zM380.9 541.1h4.4v2.4h-4.4zM1415.1 453.9h4.4v2.4h-4.4zM180.9 538.7h4.4v2.4h-4.4zM1504 456.4h4.4v2.4h-4.4zM2169.3 441.8h4.4v2.4h-4.4zM1703.6 446.7h4.4v2.4h-4.4zM1404.9 451.5h4.4v2.4h-4.4zM1004.7 543.6h4.4v2.4h-4.4zM2221 439.4h4.4v2.4h-4.4zM1318 475.7h4.4v2.4h-4.4zM2024.6 444.3h4.4v2.4h-4.4zM1821.9 456.4h4.4v2.4h-4.4zM1010.5 543.6h4.4v2.4h-4.4zM761.5 550.8h4.4v2.4h-4.4zM521.5 546h4.4v2.4h-4.4z" fill="#c000b4" opacity="0.8"/>
<linearGradient id="gl" x1="0" y1="0" x2="0" y2="1"><stop offset="0" stop-color="#00b430"/><stop offset="0.035" stop-color="#006c06"/><stop offset="0.14" stop-color="#007808"/><stop offset="0.22" stop-color="#00b00a"/><stop offset="0.42" stop-color="#00d00a"/><stop offset="0.66" stop-color="#00c40a"/><stop offset="0.83" stop-color="#009c08"/><stop offset="0.87" stop-color="#003c04"/><stop offset="1" stop-color="#002802"/></linearGradient>
<linearGradient id="gr" x1="0" y1="0" x2="0" y2="1"><stop offset="0" stop-color="#00a418"/><stop offset="0.05" stop-color="#009408"/><stop offset="0.2" stop-color="#00a80a"/><stop offset="0.36" stop-color="#00cc0a"/><stop offset="0.6" stop-color="#00ce0a"/><stop offset="0.76" stop-color="#009a08"/><stop offset="0.9" stop-color="#006406"/><stop offset="0.97" stop-color="#008410"/><stop offset="1" stop-color="#00b040"/></linearGradient>
<rect x="117" y="788" width="1086" height="63" fill="url(#gl)"/>
<path d="M119 843.4h6.1v8h-6.1zM220.9 843.4h6.1v8h-6.1zM322.9 843.4h4.4v8h-4.4zM375.2 843.4h4.4v8h-4.4zM475.4 843.4h4.4v8h-4.4zM505.9 843.4h4.4v8h-4.4zM545.1 843.4h7.8v8h-7.8zM579.1 843.4h7.8v8h-7.8zM652.3 843.4h4.4v8h-4.4zM722 843.4h4.4v8h-4.4zM739.4 843.4h4.4v8h-4.4zM791.7 843.4h6.1v8h-6.1zM823.9 843.4h7.8v8h-7.8zM857.9 843.4h4.4v8h-4.4zM888.4 843.4h7.8v8h-7.8zM922.4 843.4h4.4v8h-4.4zM939.8 843.4h4.4v8h-4.4zM970.3 843.4h4.4v8h-4.4zM1000.8 843.4h4.4v8h-4.4zM1040 843.4h6.1v8h-6.1zM1072.2 843.4h4.4v8h-4.4zM1102.7 843.4h4.4v8h-4.4zM1155 843.4h6.1v8h-6.1zM1174.2 843.4h6.1v8h-6.1z" fill="#eefbee"/>
<path d="M122 791h4.4v5h-4.4zM139.4 791h5.2v5h-5.2zM153.4 791h5.2v5h-5.2zM176 791h7v5h-7zM209.1 791h4.4v5h-4.4zM239.6 791h7v5h-7zM264 791h4.4v5h-4.4zM285.8 791h5.2v5h-5.2zM308.5 791h5.2v5h-5.2zM331.1 791h4.4v5h-4.4zM357.3 791h5.2v5h-5.2zM375.6 791h4.4v5h-4.4zM397.3 791h4.4v5h-4.4zM419.1 791h5.2v5h-5.2zM433.1 791h7v5h-7zM461.8 791h5.2v5h-5.2zM488.8 791h7v5h-7zM504.5 791h5.2v5h-5.2zM518.5 791h7v5h-7zM538.5 791h7v5h-7zM558.5 791h4.4v5h-4.4zM576 791h5.2v5h-5.2zM598.6 791h7v5h-7zM623 791h7v5h-7zM647.4 791h5.2v5h-5.2zM661.4 791h7v5h-7zM685.8 791h5.2v5h-5.2zM699.7 791h5.2v5h-5.2zM713.6 791h4.4v5h-4.4zM735.4 791h7v5h-7zM768.5 791h5.2v5h-5.2zM786.8 791h5.2v5h-5.2zM809.5 791h7v5h-7zM842.6 791h4.4v5h-4.4zM864.4 791h7v5h-7zM888.8 791h5.2v5h-5.2zM907.1 791h4.4v5h-4.4zM924.5 791h7v5h-7zM948.9 791h5.2v5h-5.2zM967.2 791h7v5h-7zM982.9 791h4.4v5h-4.4zM1013.4 791h7v5h-7zM1042.1 791h4.4v5h-4.4zM1059.6 791h7v5h-7zM1092.7 791h5.2v5h-5.2zM1115.3 791h5.2v5h-5.2zM1142.3 791h4.4v5h-4.4zM1155.4 791h7v5h-7zM1171.1 791h5.2v5h-5.2zM1193.7 791h4.4v5h-4.4z" fill="#002c02"/>
<path d="M120 834.5h7v4.8h-7zM166.2 834.5h4.4v4.8h-4.4zM196.7 834.5h4.4v4.8h-4.4zM214.1 834.5h5.2v4.8h-5.2zM236.8 834.5h4.4v4.8h-4.4zM249.8 834.5h5.2v4.8h-5.2zM272.5 834.5h4.4v4.8h-4.4zM303 834.5h7v4.8h-7zM323 834.5h7v4.8h-7zM356.1 834.5h5.2v4.8h-5.2zM378.8 834.5h5.2v4.8h-5.2zM401.4 834.5h5.2v4.8h-5.2zM432.8 834.5h5.2v4.8h-5.2zM451.1 834.5h4.4v4.8h-4.4zM481.6 834.5h7v4.8h-7zM501.6 834.5h7v4.8h-7zM534.8 834.5h5.2v4.8h-5.2zM553.1 834.5h4.4v4.8h-4.4zM583.6 834.5h5.2v4.8h-5.2zM628 834.5h7v4.8h-7zM674.2 834.5h5.2v4.8h-5.2zM688.1 834.5h5.2v4.8h-5.2zM732.6 834.5h7v4.8h-7zM748.2 834.5h5.2v4.8h-5.2zM770.9 834.5h7v4.8h-7zM795.3 834.5h5.2v4.8h-5.2zM817.9 834.5h7v4.8h-7zM842.3 834.5h5.2v4.8h-5.2zM860.6 834.5h7v4.8h-7zM876.3 834.5h5.2v4.8h-5.2zM920.8 834.5h5.2v4.8h-5.2zM943.4 834.5h7v4.8h-7zM967.8 834.5h5.2v4.8h-5.2zM990.5 834.5h7v4.8h-7zM1014.9 834.5h5.2v4.8h-5.2zM1037.5 834.5h7v4.8h-7zM1061.9 834.5h7v4.8h-7zM1095 834.5h5.2v4.8h-5.2zM1113.3 834.5h7v4.8h-7zM1146.4 834.5h5.2v4.8h-5.2zM1169.1 834.5h7v4.8h-7zM1189.1 834.5h7v4.8h-7z" fill="#006404"/>
<path d="M121 800h2.6v40h-2.6zM134.1 800h2.6v40h-2.6zM147.1 800h2.6v40h-2.6zM164.6 800h2.6v40h-2.6zM177.6 800h2.6v40h-2.6zM186.4 800h2.6v40h-2.6zM203.8 800h2.6v40h-2.6zM216.8 800h2.6v40h-2.6zM234.3 800h2.6v40h-2.6zM247.3 800h2.6v40h-2.6zM260.4 800h2.6v40h-2.6zM269.1 800h2.6v40h-2.6zM282.2 800h2.6v40h-2.6zM295.3 800h2.6v40h-2.6zM312.7 800h2.6v40h-2.6zM325.8 800h2.6v40h-2.6zM338.8 800h2.6v40h-2.6zM351.9 800h2.6v40h-2.6zM360.6 800h2.6v40h-2.6zM378 800h2.6v40h-2.6zM391.1 800h2.6v40h-2.6zM404.2 800h2.6v40h-2.6zM412.9 800h2.6v40h-2.6zM426 800h2.6v40h-2.6zM434.7 800h2.6v40h-2.6zM447.8 800h2.6v40h-2.6zM460.8 800h2.6v40h-2.6zM478.2 800h2.6v40h-2.6zM491.3 800h2.6v40h-2.6zM500 800h2.6v40h-2.6zM517.5 800h2.6v40h-2.6zM534.9 800h2.6v40h-2.6zM548 800h2.6v40h-2.6zM565.4 800h2.6v40h-2.6zM574.1 800h2.6v40h-2.6zM587.2 800h2.6v40h-2.6zM600.2 800h2.6v40h-2.6zM613.3 800h2.6v40h-2.6zM622 800h2.6v40h-2.6zM635.1 800h2.6v40h-2.6zM652.5 800h2.6v40h-2.6zM665.6 800h2.6v40h-2.6zM683 800h2.6v40h-2.6zM691.7 800h2.6v40h-2.6zM704.8 800h2.6v40h-2.6zM713.5 800h2.6v40h-2.6zM726.6 800h2.6v40h-2.6zM735.3 800h2.6v40h-2.6zM748.4 800h2.6v40h-2.6zM761.4 800h2.6v40h-2.6zM774.5 800h2.6v40h-2.6zM787.6 800h2.6v40h-2.6zM800.6 800h2.6v40h-2.6zM818.1 800h2.6v40h-2.6zM835.5 800h2.6v40h-2.6zM848.6 800h2.6v40h-2.6zM866 800h2.6v40h-2.6zM879.1 800h2.6v40h-2.6zM892.1 800h2.6v40h-2.6zM909.6 800h2.6v40h-2.6zM927 800h2.6v40h-2.6zM940.1 800h2.6v40h-2.6zM953.1 800h2.6v40h-2.6zM961.8 800h2.6v40h-2.6zM974.9 800h2.6v40h-2.6zM983.6 800h2.6v40h-2.6zM1001.1 800h2.6v40h-2.6zM1009.8 800h2.6v40h-2.6zM1022.8 800h2.6v40h-2.6zM1035.9 800h2.6v40h-2.6zM1049 800h2.6v40h-2.6zM1066.4 800h2.6v40h-2.6zM1083.8 800h2.6v40h-2.6zM1101.3 800h2.6v40h-2.6zM1114.3 800h2.6v40h-2.6zM1131.8 800h2.6v40h-2.6zM1144.8 800h2.6v40h-2.6zM1162.3 800h2.6v40h-2.6zM1179.7 800h2.6v40h-2.6zM1197.1 800h2.6v40h-2.6zM1306 789h2.6v31h-2.6zM1319.1 789h2.6v31h-2.6zM1336.5 789h2.6v31h-2.6zM1349.6 789h2.6v31h-2.6zM1362.7 789h2.6v31h-2.6zM1380.1 789h2.6v31h-2.6zM1388.8 789h2.6v31h-2.6zM1397.5 789h2.6v31h-2.6zM1414.9 789h2.6v31h-2.6zM1428 789h2.6v31h-2.6zM1441.1 789h2.6v31h-2.6zM1449.8 789h2.6v31h-2.6zM1462.9 789h2.6v31h-2.6zM1480.3 789h2.6v31h-2.6zM1489 789h2.6v31h-2.6zM1506.4 789h2.6v31h-2.6zM1519.5 789h2.6v31h-2.6zM1532.6 789h2.6v31h-2.6zM1550 789h2.6v31h-2.6zM1558.7 789h2.6v31h-2.6zM1571.8 789h2.6v31h-2.6zM1589.2 789h2.6v31h-2.6zM1602.3 789h2.6v31h-2.6zM1615.3 789h2.6v31h-2.6zM1628.4 789h2.6v31h-2.6zM1641.5 789h2.6v31h-2.6zM1658.9 789h2.6v31h-2.6zM1676.3 789h2.6v31h-2.6zM1685.1 789h2.6v31h-2.6zM1693.8 789h2.6v31h-2.6zM1706.8 789h2.6v31h-2.6zM1719.9 789h2.6v31h-2.6zM1733 789h2.6v31h-2.6zM1746 789h2.6v31h-2.6zM1759.1 789h2.6v31h-2.6zM1767.8 789h2.6v31h-2.6zM1785.3 789h2.6v31h-2.6zM1798.3 789h2.6v31h-2.6zM1811.4 789h2.6v31h-2.6zM1824.5 789h2.6v31h-2.6zM1833.2 789h2.6v31h-2.6zM1841.9 789h2.6v31h-2.6zM1855 789h2.6v31h-2.6zM1872.4 789h2.6v31h-2.6zM1881.1 789h2.6v31h-2.6zM1894.2 789h2.6v31h-2.6zM1902.9 789h2.6v31h-2.6zM1920.3 789h2.6v31h-2.6zM1937.7 789h2.6v31h-2.6zM1955.2 789h2.6v31h-2.6zM1972.6 789h2.6v31h-2.6zM1990 789h2.6v31h-2.6zM2007.5 789h2.6v31h-2.6zM2020.5 789h2.6v31h-2.6zM2033.6 789h2.6v31h-2.6zM2051 789h2.6v31h-2.6zM2059.7 789h2.6v31h-2.6zM2072.8 789h2.6v31h-2.6zM2081.5 789h2.6v31h-2.6zM2098.9 789h2.6v31h-2.6zM2112 789h2.6v31h-2.6zM2129.4 789h2.6v31h-2.6zM2142.5 789h2.6v31h-2.6zM2155.6 789h2.6v31h-2.6zM2168.6 789h2.6v31h-2.6zM2186.1 789h2.6v31h-2.6zM2203.5 789h2.6v31h-2.6zM2216.6 789h2.6v31h-2.6zM2229.6 789h2.6v31h-2.6zM2247.1 789h2.6v31h-2.6zM2255.8 789h2.6v31h-2.6zM2264.5 789h2.6v31h-2.6zM2277.6 789h2.6v31h-2.6zM2290.6 789h2.6v31h-2.6zM2299.3 789h2.6v31h-2.6z" fill="#00a408" opacity="0.5"/>
<path d="M1277.2 851 L1277.2 798 L1284 786 L1291.5 778.2 H2303 V832 H1294 L1291 851 Z" fill="url(#gr)"/>
<path d="M1277.2 851 L1277.2 798 L1284 786 L1291.5 778.2 L1296 778.2 L1296 832 L1291 851 Z" fill="#00b00a"/>
<path d="M1202 790 L1202 700 L1203.8 683 L1207 650 L1210.8 618 L1218 608 L1223.5 603.5 L1228 608 L1232.5 618 L1240.5 646 L1246.5 675 L1253.5 703 L1259 731 L1266 759.6 L1274.5 788 L1280 806 L1287 830 L1291 851 L1266.5 851 L1260.2 816 L1253.2 788 L1248 759.6 L1241.5 731 L1234.5 703 L1228 685 L1222 675 L1215 684 L1209.8 703 L1208.6 790 Z" fill="#00cc0a" stroke="#006c08" stroke-width="3" stroke-dasharray="5 5" stroke-linejoin="round"/>
<path d="M1205 700 L1205.2 790" stroke="#00e010" stroke-width="4" fill="none"/>
<path d="M1300 768.2h4.4v10.2h-4.4zM1326.1 768.2h17.4v10.2h-17.4zM1352.3 768.2h17.4v10.2h-17.4zM1374.1 768.2h4.4v10.2h-4.4zM1391.5 770.6h4.4v7.8h-4.4zM1400.2 770.6h13.1v7.8h-13.1zM1422 768.2h8.7v10.2h-8.7zM1443.8 768.2h8.7v10.2h-8.7zM1456.8 770.6h4.4v7.8h-4.4zM1465.6 770.6h4.4v7.8h-4.4zM1474.3 770.6h17.4v7.8h-17.4zM1496.1 768.2h13.1v10.2h-13.1zM1522.2 768.2h26.1v10.2h-26.1zM1570.1 770.6h17.4v7.8h-17.4zM1591.9 768.2h4.4v10.2h-4.4zM1600.6 770.6h13.1v7.8h-13.1zM1626.8 768.2h17.4v10.2h-17.4zM1650.7 768.2h13.1v10.2h-13.1zM1668.1 768.2h13.1v10.2h-13.1zM1694.3 768.2h26.1v10.2h-26.1zM1733.5 770.6h26.1v7.8h-26.1zM1764 768.2h13.1v10.2h-13.1zM1790.1 768.2h8.7v10.2h-8.7zM1805.4 768.2h26.1v10.2h-26.1zM1835.9 768.2h13.1v10.2h-13.1zM1870.7 768.2h17.4v10.2h-17.4zM1892.5 770.6h4.4v7.8h-4.4zM1903.4 770.6h4.4v7.8h-4.4zM1929.5 768.2h4.4v10.2h-4.4zM1938.3 770.6h26.1v7.8h-26.1zM1973.1 768.2h8.7v10.2h-8.7zM1990.5 768.2h17.4v10.2h-17.4zM2012.3 768.2h26.1v10.2h-26.1zM2051.5 768.2h17.4v10.2h-17.4zM2073.3 770.6h17.4v7.8h-17.4zM2095.1 768.2h4.4v10.2h-4.4zM2121.2 768.2h17.4v10.2h-17.4zM2143 768.2h26.1v10.2h-26.1zM2175.7 768.2h8.7v10.2h-8.7zM2190.9 770.6h26.1v7.8h-26.1zM2223.6 768.2h17.4v10.2h-17.4zM2245.4 770.6h13.1v7.8h-13.1zM2265 768.2h17.4v10.2h-17.4zM2295.5 770.6h4.4v7.8h-4.4z" fill="#045008"/>
<path d="M1300 781.5h4.4v4.8h-4.4zM1317.4 781.5h4.4v4.8h-4.4zM1330.5 781.5h4.4v4.8h-4.4zM1343.6 781.5h4.4v4.8h-4.4zM1361 781.5h4.4v4.8h-4.4zM1378.4 781.5h4.4v4.8h-4.4zM1404.6 781.5h4.4v4.8h-4.4zM1426.3 781.5h4.4v4.8h-4.4zM1452.5 781.5h4.4v4.8h-4.4zM1474.3 781.5h6.5v4.8h-6.5zM1502.6 781.5h4.4v4.8h-4.4zM1528.7 781.5h4.4v4.8h-4.4zM1541.8 781.5h4.4v4.8h-4.4zM1559.2 781.5h6.5v4.8h-6.5zM1578.8 781.5h4.4v4.8h-4.4zM1600.6 781.5h4.4v4.8h-4.4zM1626.8 781.5h4.4v4.8h-4.4zM1648.5 781.5h4.4v4.8h-4.4zM1670.3 781.5h4.4v4.8h-4.4zM1692.1 781.5h6.5v4.8h-6.5zM1711.7 781.5h4.4v4.8h-4.4zM1737.8 781.5h4.4v4.8h-4.4zM1759.6 781.5h4.4v4.8h-4.4zM1781.4 781.5h4.4v4.8h-4.4zM1794.5 781.5h6.5v4.8h-6.5zM1822.8 781.5h4.4v4.8h-4.4zM1840.2 781.5h4.4v4.8h-4.4zM1862 781.5h4.4v4.8h-4.4zM1888.2 781.5h6.5v4.8h-6.5zM1907.8 781.5h6.5v4.8h-6.5zM1927.4 781.5h4.4v4.8h-4.4zM1944.8 781.5h6.5v4.8h-6.5zM1960 781.5h6.5v4.8h-6.5zM1979.6 781.5h6.5v4.8h-6.5zM1994.9 781.5h6.5v4.8h-6.5zM2023.2 781.5h6.5v4.8h-6.5zM2047.2 781.5h6.5v4.8h-6.5zM2071.1 781.5h4.4v4.8h-4.4zM2097.3 781.5h4.4v4.8h-4.4zM2119.1 781.5h4.4v4.8h-4.4zM2145.2 781.5h4.4v4.8h-4.4zM2162.6 781.5h4.4v4.8h-4.4zM2180.1 781.5h4.4v4.8h-4.4zM2206.2 781.5h6.5v4.8h-6.5zM2230.2 781.5h4.4v4.8h-4.4zM2256.3 781.5h4.4v4.8h-4.4zM2282.4 781.5h6.5v4.8h-6.5z" fill="#005c06"/>
<path d="M1300 821.8h8.7v6.4h-8.7zM1313.1 821.8h4.4v6.4h-4.4zM1326.1 821.8h4.4v6.4h-4.4zM1334.9 821.8h8.7v6.4h-8.7zM1356.6 821.8h4.4v6.4h-4.4zM1374.1 821.8h4.4v6.4h-4.4zM1382.8 821.8h4.4v6.4h-4.4zM1400.2 821.8h21.8v6.4h-21.8zM1426.3 821.8h4.4v6.4h-4.4zM1439.4 821.8h21.8v6.4h-21.8zM1474.3 821.8h13.1v6.4h-13.1zM1491.7 821.8h4.4v6.4h-4.4zM1500.4 821.8h8.7v6.4h-8.7zM1522.2 821.8h8.7v6.4h-8.7zM1535.3 821.8h4.4v6.4h-4.4zM1548.3 821.8h4.4v6.4h-4.4zM1557 821.8h30.5v6.4h-30.5zM1591.9 821.8h30.5v6.4h-30.5zM1626.8 821.8h8.7v6.4h-8.7zM1639.8 821.8h21.8v6.4h-21.8zM1670.3 821.8h21.8v6.4h-21.8zM1705.2 821.8h30.5v6.4h-30.5zM1748.7 821.8h30.5v6.4h-30.5zM1783.6 821.8h4.4v6.4h-4.4zM1796.7 821.8h21.8v6.4h-21.8zM1822.8 821.8h30.5v6.4h-30.5zM1857.7 821.8h8.7v6.4h-8.7zM1875.1 821.8h21.8v6.4h-21.8zM1901.2 821.8h13.1v6.4h-13.1zM1927.4 821.8h13.1v6.4h-13.1zM1944.8 821.8h8.7v6.4h-8.7zM1957.9 821.8h21.8v6.4h-21.8zM1984 821.8h4.4v6.4h-4.4zM2001.4 821.8h30.5v6.4h-30.5zM2036.3 821.8h13.1v6.4h-13.1zM2053.7 821.8h21.8v6.4h-21.8zM2079.8 821.8h4.4v6.4h-4.4zM2088.6 821.8h13.1v6.4h-13.1zM2110.3 821.8h4.4v6.4h-4.4zM2119.1 821.8h21.8v6.4h-21.8zM2149.6 821.8h21.8v6.4h-21.8zM2175.7 821.8h13.1v6.4h-13.1zM2193.1 821.8h30.5v6.4h-30.5zM2228 821.8h21.8v6.4h-21.8zM2254.1 821.8h4.4v6.4h-4.4zM2262.8 821.8h21.8v6.4h-21.8zM2293.3 821.8h4.4v6.4h-4.4z" fill="#003c04"/>
<rect x="1322" y="830" width="5" height="10" fill="#00780c"/>
<rect x="1691" y="830" width="5" height="10" fill="#00780c"/>
<rect x="1858" y="830" width="5" height="10" fill="#00780c"/>
<rect x="1900" y="830" width="5" height="10" fill="#00780c"/>
<rect x="1953" y="830" width="5" height="10" fill="#00780c"/>
<rect x="2234" y="830" width="5" height="10" fill="#00780c"/>
</g>
<g id="grid" fill="#3c3c3c" filter="url(#b1)">
<rect x="334.8" y="61.6" width="5.4" height="4.8"/>
<rect x="334.8" y="85.8" width="5.4" height="4.8"/>
<rect x="334.8" y="110" width="5.4" height="4.8"/>
<rect x="334.8" y="134.3" width="5.4" height="4.8"/>
<rect x="334.8" y="158.5" width="5.4" height="4.8"/>
<rect x="334.8" y="182.7" width="5.4" height="4.8"/>
<rect x="334.8" y="206.9" width="5.4" height="4.8"/>
<rect x="334.8" y="231.1" width="5.4" height="4.8"/>
<rect x="334.8" y="255.4" width="5.4" height="4.8"/>
<rect x="334.8" y="279.6" width="5.4" height="4.8"/>
<rect x="334.8" y="303.8" width="5.4" height="4.8"/>
<rect x="334.8" y="328" width="5.4" height="4.8"/>
<rect x="334.8" y="352.2" width="5.4" height="4.8"/>
<rect x="334.8" y="376.5" width="5.4" height="4.8"/>
<rect x="334.8" y="400.7" width="5.4" height="4.8"/>
<rect x="334.8" y="424.9" width="5.4" height="4.8"/>
<rect x="334.8" y="449.1" width="5.4" height="4.8"/>
<rect x="334.8" y="473.3" width="5.4" height="4.8"/>
<rect x="334.8" y="497.6" width="5.4" height="4.8"/>
<rect x="334.8" y="546" width="5.4" height="4.8"/>
<rect x="334.8" y="570.2" width="5.4" height="4.8"/>
<rect x="334.8" y="594.4" width="5.4" height="4.8"/>
<rect x="334.8" y="618.7" width="5.4" height="4.8"/>
<rect x="334.8" y="642.9" width="5.4" height="4.8"/>
<rect x="334.8" y="667.1" width="5.4" height="4.8"/>
<rect x="334.8" y="691.3" width="5.4" height="4.8"/>
<rect x="334.8" y="715.5" width="5.4" height="4.8"/>
<rect x="334.8" y="739.8" width="5.4" height="4.8"/>
<rect x="334.8" y="764" width="5.4" height="4.8"/>
<rect x="334.8" y="788.2" width="5.4" height="4.8"/>
<rect x="334.8" y="812.4" width="5.4" height="4.8"/>
<rect x="334.8" y="836.6" width="5.4" height="4.8"/>
<rect x="334.8" y="860.9" width="5.4" height="4.8"/>
<rect x="334.8" y="885.1" width="5.4" height="4.8"/>
<rect x="334.8" y="909.3" width="5.4" height="4.8"/>
<rect x="334.8" y="933.5" width="5.4" height="4.8"/>
<rect x="552.7" y="61.6" width="5.4" height="4.8"/>
<rect x="552.7" y="85.8" width="5.4" height="4.8"/>
<rect x="552.7" y="110" width="5.4" height="4.8"/>
<rect x="552.7" y="134.3" width="5.4" height="4.8"/>
<rect x="552.7" y="158.5" width="5.4" height="4.8"/>
<rect x="552.7" y="182.7" width="5.4" height="4.8"/>
<rect x="552.7" y="206.9" width="5.4" height="4.8"/>
<rect x="552.7" y="231.1" width="5.4" height="4.8"/>
<rect x="552.7" y="255.4" width="5.4" height="4.8"/>
<rect x="552.7" y="279.6" width="5.4" height="4.8"/>
<rect x="552.7" y="303.8" width="5.4" height="4.8"/>
<rect x="552.7" y="328" width="5.4" height="4.8"/>
<rect x="552.7" y="352.2" width="5.4" height="4.8"/>
<rect x="552.7" y="376.5" width="5.4" height="4.8"/>
<rect x="552.7" y="400.7" width="5.4" height="4.8"/>
<rect x="552.7" y="424.9" width="5.4" height="4.8"/>
<rect x="552.7" y="449.1" width="5.4" height="4.8"/>
<rect x="552.7" y="473.3" width="5.4" height="4.8"/>
<rect x="552.7" y="497.6" width="5.4" height="4.8"/>
<rect x="552.7" y="546" width="5.4" height="4.8"/>
<rect x="552.7" y="570.2" width="5.4" height="4.8"/>
<rect x="552.7" y="594.4" width="5.4" height="4.8"/>
<rect x="552.7" y="618.7" width="5.4" height="4.8"/>
<rect x="552.7" y="642.9" width="5.4" height="4.8"/>
<rect x="552.7" y="667.1" width="5.4" height="4.8"/>
<rect x="552.7" y="691.3" width="5.4" height="4.8"/>
<rect x="552.7" y="715.5" width="5.4" height="4.8"/>
<rect x="552.7" y="739.8" width="5.4" height="4.8"/>
<rect x="552.7" y="764" width="5.4" height="4.8"/>
<rect x="552.7" y="788.2" width="5.4" height="4.8"/>
<rect x="552.7" y="812.4" width="5.4" height="4.8"/>
<rect x="552.7" y="836.6" width="5.4" height="4.8"/>
<rect x="552.7" y="860.9" width="5.4" height="4.8"/>
<rect x="552.7" y="885.1" width="5.4" height="4.8"/>
<rect x="552.7" y="909.3" width="5.4" height="4.8"/>
<rect x="552.7" y="933.5" width="5.4" height="4.8"/>
<rect x="770.5" y="61.6" width="5.4" height="4.8"/>
<rect x="770.5" y="85.8" width="5.4" height="4.8"/>
<rect x="770.5" y="110" width="5.4" height="4.8"/>
<rect x="770.5" y="134.3" width="5.4" height="4.8"/>
<rect x="770.5" y="158.5" width="5.4" height="4.8"/>
<rect x="770.5" y="182.7" width="5.4" height="4.8"/>
<rect x="770.5" y="206.9" width="5.4" height="4.8"/>
<rect x="770.5" y="231.1" width="5.4" height="4.8"/>
<rect x="770.5" y="255.4" width="5.4" height="4.8"/>
<rect x="770.5" y="279.6" width="5.4" height="4.8"/>
<rect x="770.5" y="303.8" width="5.4" height="4.8"/>
<rect x="770.5" y="328" width="5.4" height="4.8"/>
<rect x="770.5" y="352.2" width="5.4" height="4.8"/>
<rect x="770.5" y="376.5" width="5.4" height="4.8"/>
<rect x="770.5" y="400.7" width="5.4" height="4.8"/>
<rect x="770.5" y="424.9" width="5.4" height="4.8"/>
<rect x="770.5" y="449.1" width="5.4" height="4.8"/>
<rect x="770.5" y="473.3" width="5.4" height="4.8"/>
<rect x="770.5" y="497.6" width="5.4" height="4.8"/>
<rect x="770.5" y="546" width="5.4" height="4.8"/>
<rect x="770.5" y="570.2" width="5.4" height="4.8"/>
<rect x="770.5" y="594.4" width="5.4" height="4.8"/>
<rect x="770.5" y="618.7" width="5.4" height="4.8"/>
<rect x="770.5" y="642.9" width="5.4" height="4.8"/>
<rect x="770.5" y="667.1" width="5.4" height="4.8"/>
<rect x="770.5" y="691.3" width="5.4" height="4.8"/>
<rect x="770.5" y="715.5" width="5.4" height="4.8"/>
<rect x="770.5" y="739.8" width="5.4" height="4.8"/>
<rect x="770.5" y="764" width="5.4" height="4.8"/>
<rect x="770.5" y="788.2" width="5.4" height="4.8"/>
<rect x="770.5" y="812.4" width="5.4" height="4.8"/>
<rect x="770.5" y="836.6" width="5.4" height="4.8"/>
<rect x="770.5" y="860.9" width="5.4" height="4.8"/>
<rect x="770.5" y="885.1" width="5.4" height="4.8"/>
<rect x="770.5" y="909.3" width="5.4" height="4.8"/>
<rect x="770.5" y="933.5" width="5.4" height="4.8"/>
<rect x="988.3" y="61.6" width="5.4" height="4.8"/>
<rect x="988.3" y="85.8" width="5.4" height="4.8"/>
<rect x="988.3" y="110" width="5.4" height="4.8"/>
<rect x="988.3" y="134.3" width="5.4" height="4.8"/>
<rect x="988.3" y="158.5" width="5.4" height="4.8"/>
<rect x="988.3" y="182.7" width="5.4" height="4.8"/>
<rect x="988.3" y="206.9" width="5.4" height="4.8"/>
<rect x="988.3" y="231.1" width="5.4" height="4.8"/>
<rect x="988.3" y="255.4" width="5.4" height="4.8"/>
<rect x="988.3" y="279.6" width="5.4" height="4.8"/>
<rect x="988.3" y="303.8" width="5.4" height="4.8"/>
<rect x="988.3" y="328" width="5.4" height="4.8"/>
<rect x="988.3" y="352.2" width="5.4" height="4.8"/>
<rect x="988.3" y="376.5" width="5.4" height="4.8"/>
<rect x="988.3" y="400.7" width="5.4" height="4.8"/>
<rect x="988.3" y="424.9" width="5.4" height="4.8"/>
<rect x="988.3" y="449.1" width="5.4" height="4.8"/>
<rect x="988.3" y="473.3" width="5.4" height="4.8"/>
<rect x="988.3" y="497.6" width="5.4" height="4.8"/>
<rect x="988.3" y="546" width="5.4" height="4.8"/>
<rect x="988.3" y="570.2" width="5.4" height="4.8"/>
<rect x="988.3" y="594.4" width="5.4" height="4.8"/>
<rect x="988.3" y="618.7" width="5.4" height="4.8"/>
<rect x="988.3" y="642.9" width="5.4" height="4.8"/>
<rect x="988.3" y="667.1" width="5.4" height="4.8"/>
<rect x="988.3" y="691.3" width="5.4" height="4.8"/>
<rect x="988.3" y="715.5" width="5.4" height="4.8"/>
<rect x="988.3" y="739.8" width="5.4" height="4.8"/>
<rect x="988.3" y="764" width="5.4" height="4.8"/>
<rect x="988.3" y="788.2" width="5.4" height="4.8"/>
<rect x="988.3" y="812.4" width="5.4" height="4.8"/>
<rect x="988.3" y="836.6" width="5.4" height="4.8"/>
<rect x="988.3" y="860.9" width="5.4" height="4.8"/>
<rect x="1424" y="61.6" width="5.4" height="4.8"/>
<rect x="1424" y="85.8" width="5.4" height="4.8"/>
<rect x="1424" y="110" width="5.4" height="4.8"/>
<rect x="1424" y="134.3" width="5.4" height="4.8"/>
<rect x="1424" y="158.5" width="5.4" height="4.8"/>
<rect x="1424" y="182.7" width="5.4" height="4.8"/>
<rect x="1424" y="206.9" width="5.4" height="4.8"/>
<rect x="1424" y="231.1" width="5.4" height="4.8"/>
<rect x="1424" y="255.4" width="5.4" height="4.8"/>
<rect x="1424" y="279.6" width="5.4" height="4.8"/>
<rect x="1424" y="303.8" width="5.4" height="4.8"/>
<rect x="1424" y="328" width="5.4" height="4.8"/>
<rect x="1424" y="352.2" width="5.4" height="4.8"/>
<rect x="1424" y="376.5" width="5.4" height="4.8"/>
<rect x="1424" y="400.7" width="5.4" height="4.8"/>
<rect x="1424" y="424.9" width="5.4" height="4.8"/>
<rect x="1424" y="449.1" width="5.4" height="4.8"/>
<rect x="1424" y="473.3" width="5.4" height="4.8"/>
<rect x="1424" y="497.6" width="5.4" height="4.8"/>
<rect x="1424" y="546" width="5.4" height="4.8"/>
<rect x="1424" y="570.2" width="5.4" height="4.8"/>
<rect x="1424" y="594.4" width="5.4" height="4.8"/>
<rect x="1424" y="618.7" width="5.4" height="4.8"/>
<rect x="1424" y="642.9" width="5.4" height="4.8"/>
<rect x="1424" y="667.1" width="5.4" height="4.8"/>
<rect x="1424" y="691.3" width="5.4" height="4.8"/>
<rect x="1424" y="715.5" width="5.4" height="4.8"/>
<rect x="1424" y="739.8" width="5.4" height="4.8"/>
<rect x="1424" y="764" width="5.4" height="4.8"/>
<rect x="1424" y="788.2" width="5.4" height="4.8"/>
<rect x="1424" y="812.4" width="5.4" height="4.8"/>
<rect x="1424" y="836.6" width="5.4" height="4.8"/>
<rect x="1424" y="860.9" width="5.4" height="4.8"/>
<rect x="1641.8" y="61.6" width="5.4" height="4.8"/>
<rect x="1641.8" y="85.8" width="5.4" height="4.8"/>
<rect x="1641.8" y="110" width="5.4" height="4.8"/>
<rect x="1641.8" y="134.3" width="5.4" height="4.8"/>
<rect x="1641.8" y="158.5" width="5.4" height="4.8"/>
<rect x="1641.8" y="182.7" width="5.4" height="4.8"/>
<rect x="1641.8" y="206.9" width="5.4" height="4.8"/>
<rect x="1641.8" y="231.1" width="5.4" height="4.8"/>
<rect x="1641.8" y="255.4" width="5.4" height="4.8"/>
<rect x="1641.8" y="279.6" width="5.4" height="4.8"/>
<rect x="1641.8" y="303.8" width="5.4" height="4.8"/>
<rect x="1641.8" y="328" width="5.4" height="4.8"/>
<rect x="1641.8" y="352.2" width="5.4" height="4.8"/>
<rect x="1641.8" y="376.5" width="5.4" height="4.8"/>
<rect x="1641.8" y="400.7" width="5.4" height="4.8"/>
<rect x="1641.8" y="424.9" width="5.4" height="4.8"/>
<rect x="1641.8" y="449.1" width="5.4" height="4.8"/>
<rect x="1641.8" y="473.3" width="5.4" height="4.8"/>
<rect x="1641.8" y="497.6" width="5.4" height="4.8"/>
<rect x="1641.8" y="546" width="5.4" height="4.8"/>
<rect x="1641.8" y="570.2" width="5.4" height="4.8"/>
<rect x="1641.8" y="594.4" width="5.4" height="4.8"/>
<rect x="1641.8" y="618.7" width="5.4" height="4.8"/>
<rect x="1641.8" y="642.9" width="5.4" height="4.8"/>
<rect x="1641.8" y="667.1" width="5.4" height="4.8"/>
<rect x="1641.8" y="691.3" width="5.4" height="4.8"/>
<rect x="1641.8" y="715.5" width="5.4" height="4.8"/>
<rect x="1641.8" y="739.8" width="5.4" height="4.8"/>
<rect x="1641.8" y="764" width="5.4" height="4.8"/>
<rect x="1641.8" y="788.2" width="5.4" height="4.8"/>
<rect x="1641.8" y="812.4" width="5.4" height="4.8"/>
<rect x="1641.8" y="836.6" width="5.4" height="4.8"/>
<rect x="1641.8" y="860.9" width="5.4" height="4.8"/>
<rect x="1859.7" y="61.6" width="5.4" height="4.8"/>
<rect x="1859.7" y="85.8" width="5.4" height="4.8"/>
<rect x="1859.7" y="110" width="5.4" height="4.8"/>
<rect x="1859.7" y="134.3" width="5.4" height="4.8"/>
<rect x="1859.7" y="158.5" width="5.4" height="4.8"/>
<rect x="1859.7" y="182.7" width="5.4" height="4.8"/>
<rect x="1859.7" y="206.9" width="5.4" height="4.8"/>
<rect x="1859.7" y="231.1" width="5.4" height="4.8"/>
<rect x="1859.7" y="255.4" width="5.4" height="4.8"/>
<rect x="1859.7" y="279.6" width="5.4" height="4.8"/>
<rect x="1859.7" y="303.8" width="5.4" height="4.8"/>
<rect x="1859.7" y="328" width="5.4" height="4.8"/>
<rect x="1859.7" y="352.2" width="5.4" height="4.8"/>
<rect x="1859.7" y="376.5" width="5.4" height="4.8"/>
<rect x="1859.7" y="400.7" width="5.4" height="4.8"/>
<rect x="1859.7" y="424.9" width="5.4" height="4.8"/>
<rect x="1859.7" y="449.1" width="5.4" height="4.8"/>
<rect x="1859.7" y="473.3" width="5.4" height="4.8"/>
<rect x="1859.7" y="497.6" width="5.4" height="4.8"/>
<rect x="1859.7" y="546" width="5.4" height="4.8"/>
<rect x="1859.7" y="570.2" width="5.4" height="4.8"/>
<rect x="1859.7" y="594.4" width="5.4" height="4.8"/>
<rect x="1859.7" y="618.7" width="5.4" height="4.8"/>
<rect x="1859.7" y="642.9" width="5.4" height="4.8"/>
<rect x="1859.7" y="667.1" width="5.4" height="4.8"/>
<rect x="1859.7" y="691.3" width="5.4" height="4.8"/>
<rect x="1859.7" y="715.5" width="5.4" height="4.8"/>
<rect x="1859.7" y="739.8" width="5.4" height="4.8"/>
<rect x="1859.7" y="764" width="5.4" height="4.8"/>
<rect x="1859.7" y="788.2" width="5.4" height="4.8"/>
<rect x="1859.7" y="812.4" width="5.4" height="4.8"/>
<rect x="1859.7" y="836.6" width="5.4" height="4.8"/>
<rect x="1859.7" y="860.9" width="5.4" height="4.8"/>
<rect x="2077.5" y="61.6" width="5.4" height="4.8"/>
<rect x="2077.5" y="85.8" width="5.4" height="4.8"/>
<rect x="2077.5" y="110" width="5.4" height="4.8"/>
<rect x="2077.5" y="134.3" width="5.4" height="4.8"/>
<rect x="2077.5" y="158.5" width="5.4" height="4.8"/>
<rect x="2077.5" y="182.7" width="5.4" height="4.8"/>
<rect x="2077.5" y="206.9" width="5.4" height="4.8"/>
<rect x="2077.5" y="231.1" width="5.4" height="4.8"/>
<rect x="2077.5" y="255.4" width="5.4" height="4.8"/>
<rect x="2077.5" y="279.6" width="5.4" height="4.8"/>
<rect x="2077.5" y="303.8" width="5.4" height="4.8"/>
<rect x="2077.5" y="328" width="5.4" height="4.8"/>
<rect x="2077.5" y="352.2" width="5.4" height="4.8"/>
<rect x="2077.5" y="376.5" width="5.4" height="4.8"/>
<rect x="2077.5" y="400.7" width="5.4" height="4.8"/>
<rect x="2077.5" y="424.9" width="5.4" height="4.8"/>
<rect x="2077.5" y="449.1" width="5.4" height="4.8"/>
<rect x="2077.5" y="473.3" width="5.4" height="4.8"/>
<rect x="2077.5" y="497.6" width="5.4" height="4.8"/>
<rect x="2077.5" y="546" width="5.4" height="4.8"/>
<rect x="2077.5" y="570.2" width="5.4" height="4.8"/>
<rect x="2077.5" y="594.4" width="5.4" height="4.8"/>
<rect x="2077.5" y="618.7" width="5.4" height="4.8"/>
<rect x="2077.5" y="642.9" width="5.4" height="4.8"/>
<rect x="2077.5" y="667.1" width="5.4" height="4.8"/>
<rect x="2077.5" y="691.3" width="5.4" height="4.8"/>
<rect x="2077.5" y="715.5" width="5.4" height="4.8"/>
<rect x="2077.5" y="739.8" width="5.4" height="4.8"/>
<rect x="2077.5" y="764" width="5.4" height="4.8"/>
<rect x="2077.5" y="788.2" width="5.4" height="4.8"/>
<rect x="2077.5" y="812.4" width="5.4" height="4.8"/>
<rect x="2077.5" y="836.6" width="5.4" height="4.8"/>
<rect x="2077.5" y="860.9" width="5.4" height="4.8"/>
<rect x="2077.5" y="885.1" width="5.4" height="4.8"/>
<rect x="2077.5" y="909.3" width="5.4" height="4.8"/>
<rect x="2077.5" y="933.5" width="5.4" height="4.8"/>
<rect x="160.6" y="158.5" width="5.4" height="4.8"/>
<rect x="204.1" y="158.5" width="5.4" height="4.8"/>
<rect x="247.7" y="158.5" width="5.4" height="4.8"/>
<rect x="291.3" y="158.5" width="5.4" height="4.8"/>
<rect x="378.4" y="158.5" width="5.4" height="4.8"/>
<rect x="422" y="158.5" width="5.4" height="4.8"/>
<rect x="465.5" y="158.5" width="5.4" height="4.8"/>
<rect x="509.1" y="158.5" width="5.4" height="4.8"/>
<rect x="596.2" y="158.5" width="5.4" height="4.8"/>
<rect x="639.8" y="158.5" width="5.4" height="4.8"/>
<rect x="683.4" y="158.5" width="5.4" height="4.8"/>
<rect x="726.9" y="158.5" width="5.4" height="4.8"/>
<rect x="814.1" y="158.5" width="5.4" height="4.8"/>
<rect x="857.6" y="158.5" width="5.4" height="4.8"/>
<rect x="901.2" y="158.5" width="5.4" height="4.8"/>
<rect x="944.8" y="158.5" width="5.4" height="4.8"/>
<rect x="1031.9" y="158.5" width="5.4" height="4.8"/>
<rect x="1075.5" y="158.5" width="5.4" height="4.8"/>
<rect x="1119" y="158.5" width="5.4" height="4.8"/>
<rect x="1162.6" y="158.5" width="5.4" height="4.8"/>
<rect x="1249.7" y="158.5" width="5.4" height="4.8"/>
<rect x="1293.3" y="158.5" width="5.4" height="4.8"/>
<rect x="1336.9" y="158.5" width="5.4" height="4.8"/>
<rect x="1380.4" y="158.5" width="5.4" height="4.8"/>
<rect x="1467.6" y="158.5" width="5.4" height="4.8"/>
<rect x="1511.1" y="158.5" width="5.4" height="4.8"/>
<rect x="1554.7" y="158.5" width="5.4" height="4.8"/>
<rect x="1598.3" y="158.5" width="5.4" height="4.8"/>
<rect x="1685.4" y="158.5" width="5.4" height="4.8"/>
<rect x="1729" y="158.5" width="5.4" height="4.8"/>
<rect x="1772.5" y="158.5" width="5.4" height="4.8"/>
<rect x="1816.1" y="158.5" width="5.4" height="4.8"/>
<rect x="1903.2" y="158.5" width="5.4" height="4.8"/>
<rect x="1946.8" y="158.5" width="5.4" height="4.8"/>
<rect x="1990.4" y="158.5" width="5.4" height="4.8"/>
<rect x="2033.9" y="158.5" width="5.4" height="4.8"/>
<rect x="2121.1" y="158.5" width="5.4" height="4.8"/>
<rect x="2164.6" y="158.5" width="5.4" height="4.8"/>
<rect x="2208.2" y="158.5" width="5.4" height="4.8"/>
<rect x="2251.8" y="158.5" width="5.4" height="4.8"/>
<rect x="160.6" y="279.6" width="5.4" height="4.8"/>
<rect x="204.1" y="279.6" width="5.4" height="4.8"/>
<rect x="247.7" y="279.6" width="5.4" height="4.8"/>
<rect x="291.3" y="279.6" width="5.4" height="4.8"/>
<rect x="378.4" y="279.6" width="5.4" height="4.8"/>
<rect x="422" y="279.6" width="5.4" height="4.8"/>
<rect x="465.5" y="279.6" width="5.4" height="4.8"/>
<rect x="509.1" y="279.6" width="5.4" height="4.8"/>
<rect x="596.2" y="279.6" width="5.4" height="4.8"/>
<rect x="639.8" y="279.6" width="5.4" height="4.8"/>
<rect x="683.4" y="279.6" width="5.4" height="4.8"/>
<rect x="726.9" y="279.6" width="5.4" height="4.8"/>
<rect x="814.1" y="279.6" width="5.4" height="4.8"/>
<rect x="857.6" y="279.6" width="5.4" height="4.8"/>
<rect x="901.2" y="279.6" width="5.4" height="4.8"/>
<rect x="944.8" y="279.6" width="5.4" height="4.8"/>
<rect x="1031.9" y="279.6" width="5.4" height="4.8"/>
<rect x="1075.5" y="279.6" width="5.4" height="4.8"/>
<rect x="1119" y="279.6" width="5.4" height="4.8"/>
<rect x="1162.6" y="279.6" width="5.4" height="4.8"/>
<rect x="1249.7" y="279.6" width="5.4" height="4.8"/>
<rect x="1293.3" y="279.6" width="5.4" height="4.8"/>
<rect x="1336.9" y="279.6" width="5.4" height="4.8"/>
<rect x="1380.4" y="279.6" width="5.4" height="4.8"/>
<rect x="1467.6" y="279.6" width="5.4" height="4.8"/>
<rect x="1511.1" y="279.6" width="5.4" height="4.8"/>
<rect x="1554.7" y="279.6" width="5.4" height="4.8"/>
<rect x="1598.3" y="279.6" width="5.4" height="4.8"/>
<rect x="1685.4" y="279.6" width="5.4" height="4.8"/>
<rect x="1729" y="279.6" width="5.4" height="4.8"/>
<rect x="1772.5" y="279.6" width="5.4" height="4.8"/>
<rect x="1816.1" y="279.6" width="5.4" height="4.8"/>
<rect x="1903.2" y="279.6" width="5.4" height="4.8"/>
<rect x="1946.8" y="279.6" width="5.4" height="4.8"/>
<rect x="1990.4" y="279.6" width="5.4" height="4.8"/>
<rect x="2033.9" y="279.6" width="5.4" height="4.8"/>
<rect x="2121.1" y="279.6" width="5.4" height="4.8"/>
<rect x="2164.6" y="279.6" width="5.4" height="4.8"/>
<rect x="2208.2" y="279.6" width="5.4" height="4.8"/>
<rect x="2251.8" y="279.6" width="5.4" height="4.8"/>
<rect x="160.6" y="400.7" width="5.4" height="4.8"/>
<rect x="204.1" y="400.7" width="5.4" height="4.8"/>
<rect x="247.7" y="400.7" width="5.4" height="4.8"/>
<rect x="291.3" y="400.7" width="5.4" height="4.8"/>
<rect x="378.4" y="400.7" width="5.4" height="4.8"/>
<rect x="422" y="400.7" width="5.4" height="4.8"/>
<rect x="465.5" y="400.7" width="5.4" height="4.8"/>
<rect x="509.1" y="400.7" width="5.4" height="4.8"/>
<rect x="596.2" y="400.7" width="5.4" height="4.8"/>
<rect x="639.8" y="400.7" width="5.4" height="4.8"/>
<rect x="683.4" y="400.7" width="5.4" height="4.8"/>
<rect x="726.9" y="400.7" width="5.4" height="4.8"/>
<rect x="814.1" y="400.7" width="5.4" height="4.8"/>
<rect x="857.6" y="400.7" width="5.4" height="4.8"/>
<rect x="901.2" y="400.7" width="5.4" height="4.8"/>
<rect x="944.8" y="400.7" width="5.4" height="4.8"/>
<rect x="1031.9" y="400.7" width="5.4" height="4.8"/>
<rect x="1075.5" y="400.7" width="5.4" height="4.8"/>
<rect x="1119" y="400.7" width="5.4" height="4.8"/>
<rect x="1162.6" y="400.7" width="5.4" height="4.8"/>
<rect x="1249.7" y="400.7" width="5.4" height="4.8"/>
<rect x="1293.3" y="400.7" width="5.4" height="4.8"/>
<rect x="1336.9" y="400.7" width="5.4" height="4.8"/>
<rect x="1380.4" y="400.7" width="5.4" height="4.8"/>
<rect x="1467.6" y="400.7" width="5.4" height="4.8"/>
<rect x="1511.1" y="400.7" width="5.4" height="4.8"/>
<rect x="1554.7" y="400.7" width="5.4" height="4.8"/>
<rect x="1598.3" y="400.7" width="5.4" height="4.8"/>
<rect x="1685.4" y="400.7" width="5.4" height="4.8"/>
<rect x="1729" y="400.7" width="5.4" height="4.8"/>
<rect x="1772.5" y="400.7" width="5.4" height="4.8"/>
<rect x="1816.1" y="400.7" width="5.4" height="4.8"/>
<rect x="1903.2" y="400.7" width="5.4" height="4.8"/>
<rect x="1946.8" y="400.7" width="5.4" height="4.8"/>
<rect x="1990.4" y="400.7" width="5.4" height="4.8"/>
<rect x="2033.9" y="400.7" width="5.4" height="4.8"/>
<rect x="2121.1" y="400.7" width="5.4" height="4.8"/>
<rect x="2164.6" y="400.7" width="5.4" height="4.8"/>
<rect x="2208.2" y="400.7" width="5.4" height="4.8"/>
<rect x="2251.8" y="400.7" width="5.4" height="4.8"/>
<rect x="160.6" y="642.9" width="5.4" height="4.8"/>
<rect x="204.1" y="642.9" width="5.4" height="4.8"/>
<rect x="247.7" y="642.9" width="5.4" height="4.8"/>
<rect x="291.3" y="642.9" width="5.4" height="4.8"/>
<rect x="378.4" y="642.9" width="5.4" height="4.8"/>
<rect x="422" y="642.9" width="5.4" height="4.8"/>
<rect x="465.5" y="642.9" width="5.4" height="4.8"/>
<rect x="509.1" y="642.9" width="5.4" height="4.8"/>
<rect x="596.2" y="642.9" width="5.4" height="4.8"/>
<rect x="639.8" y="642.9" width="5.4" height="4.8"/>
<rect x="683.4" y="642.9" width="5.4" height="4.8"/>
<rect x="726.9" y="642.9" width="5.4" height="4.8"/>
<rect x="814.1" y="642.9" width="5.4" height="4.8"/>
<rect x="857.6" y="642.9" width="5.4" height="4.8"/>
<rect x="901.2" y="642.9" width="5.4" height="4.8"/>
<rect x="944.8" y="642.9" width="5.4" height="4.8"/>
<rect x="1031.9" y="642.9" width="5.4" height="4.8"/>
<rect x="1075.5" y="642.9" width="5.4" height="4.8"/>
<rect x="1119" y="642.9" width="5.4" height="4.8"/>
<rect x="1162.6" y="642.9" width="5.4" height="4.8"/>
<rect x="1249.7" y="642.9" width="5.4" height="4.8"/>
<rect x="1293.3" y="642.9" width="5.4" height="4.8"/>
<rect x="1336.9" y="642.9" width="5.4" height="4.8"/>
<rect x="1380.4" y="642.9" width="5.4" height="4.8"/>
<rect x="1467.6" y="642.9" width="5.4" height="4.8"/>
<rect x="1511.1" y="642.9" width="5.4" height="4.8"/>
<rect x="1554.7" y="642.9" width="5.4" height="4.8"/>
<rect x="1598.3" y="642.9" width="5.4" height="4.8"/>
<rect x="1685.4" y="642.9" width="5.4" height="4.8"/>
<rect x="1729" y="642.9" width="5.4" height="4.8"/>
<rect x="1772.5" y="642.9" width="5.4" height="4.8"/>
<rect x="1816.1" y="642.9" width="5.4" height="4.8"/>
<rect x="1903.2" y="642.9" width="5.4" height="4.8"/>
<rect x="1946.8" y="642.9" width="5.4" height="4.8"/>
<rect x="1990.4" y="642.9" width="5.4" height="4.8"/>
<rect x="2033.9" y="642.9" width="5.4" height="4.8"/>
<rect x="2121.1" y="642.9" width="5.4" height="4.8"/>
<rect x="2164.6" y="642.9" width="5.4" height="4.8"/>
<rect x="2208.2" y="642.9" width="5.4" height="4.8"/>
<rect x="2251.8" y="642.9" width="5.4" height="4.8"/>
<rect x="160.6" y="764" width="5.4" height="4.8"/>
<rect x="204.1" y="764" width="5.4" height="4.8"/>
<rect x="247.7" y="764" width="5.4" height="4.8"/>
<rect x="291.3" y="764" width="5.4" height="4.8"/>
<rect x="378.4" y="764" width="5.4" height="4.8"/>
<rect x="422" y="764" width="5.4" height="4.8"/>
<rect x="465.5" y="764" width="5.4" height="4.8"/>
<rect x="509.1" y="764" width="5.4" height="4.8"/>
<rect x="596.2" y="764" width="5.4" height="4.8"/>
<rect x="639.8" y="764" width="5.4" height="4.8"/>
<rect x="683.4" y="764" width="5.4" height="4.8"/>
<rect x="726.9" y="764" width="5.4" height="4.8"/>
<rect x="814.1" y="764" width="5.4" height="4.8"/>
<rect x="857.6" y="764" width="5.4" height="4.8"/>
<rect x="901.2" y="764" width="5.4" height="4.8"/>
<rect x="944.8" y="764" width="5.4" height="4.8"/>
<rect x="1031.9" y="764" width="5.4" height="4.8"/>
<rect x="1075.5" y="764" width="5.4" height="4.8"/>
<rect x="1119" y="764" width="5.4" height="4.8"/>
<rect x="1162.6" y="764" width="5.4" height="4.8"/>
<rect x="1249.7" y="764" width="5.4" height="4.8"/>
<rect x="1293.3" y="764" width="5.4" height="4.8"/>
<rect x="1336.9" y="764" width="5.4" height="4.8"/>
<rect x="1380.4" y="764" width="5.4" height="4.8"/>
<rect x="1467.6" y="764" width="5.4" height="4.8"/>
<rect x="1511.1" y="764" width="5.4" height="4.8"/>
<rect x="1554.7" y="764" width="5.4" height="4.8"/>
<rect x="1598.3" y="764" width="5.4" height="4.8"/>
<rect x="1685.4" y="764" width="5.4" height="4.8"/>
<rect x="1729" y="764" width="5.4" height="4.8"/>
<rect x="1772.5" y="764" width="5.4" height="4.8"/>
<rect x="1816.1" y="764" width="5.4" height="4.8"/>
<rect x="1903.2" y="764" width="5.4" height="4.8"/>
<rect x="1946.8" y="764" width="5.4" height="4.8"/>
<rect x="1990.4" y="764" width="5.4" height="4.8"/>
<rect x="2033.9" y="764" width="5.4" height="4.8"/>
<rect x="2121.1" y="764" width="5.4" height="4.8"/>
<rect x="2164.6" y="764" width="5.4" height="4.8"/>
<rect x="2208.2" y="764" width="5.4" height="4.8"/>
<rect x="2251.8" y="764" width="5.4" height="4.8"/>
<rect x="160.6" y="885.1" width="5.4" height="4.8"/>
<rect x="204.1" y="885.1" width="5.4" height="4.8"/>
<rect x="247.7" y="885.1" width="5.4" height="4.8"/>
<rect x="291.3" y="885.1" width="5.4" height="4.8"/>
<rect x="378.4" y="885.1" width="5.4" height="4.8"/>
<rect x="422" y="885.1" width="5.4" height="4.8"/>
<rect x="465.5" y="885.1" width="5.4" height="4.8"/>
<rect x="509.1" y="885.1" width="5.4" height="4.8"/>
<rect x="596.2" y="885.1" width="5.4" height="4.8"/>
<rect x="639.8" y="885.1" width="5.4" height="4.8"/>
<rect x="683.4" y="885.1" width="5.4" height="4.8"/>
<rect x="726.9" y="885.1" width="5.4" height="4.8"/>
<rect x="814.1" y="885.1" width="5.4" height="4.8"/>
<rect x="857.6" y="885.1" width="5.4" height="4.8"/>
<rect x="2121.1" y="885.1" width="5.4" height="4.8"/>
<rect x="2164.6" y="885.1" width="5.4" height="4.8"/>
<rect x="2208.2" y="885.1" width="5.4" height="4.8"/>
<rect x="2251.8" y="885.1" width="5.4" height="4.8"/>
</g>
<g id="axes" fill="#262626" filter="url(#b1)">
<rect x="1201.1" y="61.6" width="15.5" height="4.8"/>
<rect x="1201.1" y="85.8" width="15.5" height="4.8"/>
<rect x="1201.1" y="110" width="15.5" height="4.8"/>
<rect x="1201.1" y="134.3" width="15.5" height="4.8"/>
<rect x="1196.4" y="158.5" width="25" height="4.8"/>
<rect x="1201.1" y="182.7" width="15.5" height="4.8"/>
<rect x="1201.1" y="206.9" width="15.5" height="4.8"/>
<rect x="1201.1" y="231.1" width="15.5" height="4.8"/>
<rect x="1201.1" y="255.4" width="15.5" height="4.8"/>
<rect x="1196.4" y="279.6" width="25" height="4.8"/>
<rect x="1201.1" y="303.8" width="15.5" height="4.8"/>
<rect x="1201.1" y="328" width="15.5" height="4.8"/>
<rect x="1201.1" y="352.2" width="15.5" height="4.8"/>
<rect x="1201.1" y="376.5" width="15.5" height="4.8"/>
<rect x="1196.4" y="400.7" width="25" height="4.8"/>
<rect x="1201.1" y="424.9" width="15.5" height="4.8"/>
<rect x="1201.1" y="449.1" width="15.5" height="4.8"/>
<rect x="1201.1" y="473.3" width="15.5" height="4.8"/>
<rect x="1201.1" y="497.6" width="15.5" height="4.8"/>
<rect x="1201.1" y="546" width="15.5" height="4.8"/>
<rect x="1201.1" y="570.2" width="15.5" height="4.8"/>
<rect x="1201.1" y="594.4" width="15.5" height="4.8"/>
<rect x="1201.1" y="618.7" width="15.5" height="4.8"/>
<rect x="1196.4" y="642.9" width="25" height="4.8"/>
<rect x="1201.1" y="667.1" width="15.5" height="4.8"/>
<rect x="1201.1" y="691.3" width="15.5" height="4.8"/>
<rect x="1201.1" y="715.5" width="15.5" height="4.8"/>
<rect x="1201.1" y="739.8" width="15.5" height="4.8"/>
<rect x="1196.4" y="764" width="25" height="4.8"/>
<rect x="1201.1" y="788.2" width="15.5" height="4.8"/>
<rect x="1201.1" y="812.4" width="15.5" height="4.8"/>
<rect x="1201.1" y="836.6" width="15.5" height="4.8"/>
<rect x="1201.1" y="860.9" width="15.5" height="4.8"/>
<rect x="160.8" y="517.2" width="5" height="14"/>
<rect x="204.3" y="517.2" width="5" height="14"/>
<rect x="247.9" y="517.2" width="5" height="14"/>
<rect x="291.5" y="517.2" width="5" height="14"/>
<rect x="335" y="513.7" width="5" height="21"/>
<rect x="378.6" y="517.2" width="5" height="14"/>
<rect x="422.2" y="517.2" width="5" height="14"/>
<rect x="465.7" y="517.2" width="5" height="14"/>
<rect x="509.3" y="517.2" width="5" height="14"/>
<rect x="552.9" y="513.7" width="5" height="21"/>
<rect x="596.4" y="517.2" width="5" height="14"/>
<rect x="640" y="517.2" width="5" height="14"/>
<rect x="683.6" y="517.2" width="5" height="14"/>
<rect x="727.1" y="517.2" width="5" height="14"/>
<rect x="770.7" y="513.7" width="5" height="21"/>
<rect x="814.3" y="517.2" width="5" height="14"/>
<rect x="857.8" y="517.2" width="5" height="14"/>
<rect x="901.4" y="517.2" width="5" height="14"/>
<rect x="945" y="517.2" width="5" height="14"/>
<rect x="988.5" y="513.7" width="5" height="21"/>
<rect x="1032.1" y="517.2" width="5" height="14"/>
<rect x="1075.7" y="517.2" width="5" height="14"/>
<rect x="1119.2" y="517.2" width="5" height="14"/>
<rect x="1162.8" y="517.2" width="5" height="14"/>
<rect x="1206.4" y="513.7" width="5" height="21"/>
<rect x="1249.9" y="517.2" width="5" height="14"/>
<rect x="1293.5" y="517.2" width="5" height="14"/>
<rect x="1337.1" y="517.2" width="5" height="14"/>
<rect x="1380.6" y="517.2" width="5" height="14"/>
<rect x="1424.2" y="513.7" width="5" height="21"/>
<rect x="1467.8" y="517.2" width="5" height="14"/>
<rect x="1511.3" y="517.2" width="5" height="14"/>
<rect x="1554.9" y="517.2" width="5" height="14"/>
<rect x="1598.5" y="517.2" width="5" height="14"/>
<rect x="1642" y="513.7" width="5" height="21"/>
<rect x="1685.6" y="517.2" width="5" height="14"/>
<rect x="1729.2" y="517.2" width="5" height="14"/>
<rect x="1772.7" y="517.2" width="5" height="14"/>
<rect x="1816.3" y="517.2" width="5" height="14"/>
<rect x="1859.9" y="513.7" width="5" height="21"/>
<rect x="1903.4" y="517.2" width="5" height="14"/>
<rect x="1947" y="517.2" width="5" height="14"/>
<rect x="1990.6" y="517.2" width="5" height="14"/>
<rect x="2034.1" y="517.2" width="5" height="14"/>
<rect x="2077.7" y="513.7" width="5" height="21"/>
<rect x="2121.3" y="517.2" width="5" height="14"/>
<rect x="2164.8" y="517.2" width="5" height="14"/>
<rect x="2208.4" y="517.2" width="5" height="14"/>
<rect x="2252" y="517.2" width="5" height="14"/>
</g>
<g id="frame" fill="#182828" filter="url(#b1)">
<rect x="111.8" y="33.2" width="2194.6" height="5.4"/>
<rect x="111.8" y="33.2" width="6.4" height="929.4"/>
<rect x="2300" y="33.2" width="6.4" height="929.4"/>
</g>
<g id="ticks" fill="#161616" filter="url(#b1)">
<rect x="160.5" y="37" width="5.6" height="9.5"/>
<rect x="204" y="37" width="5.6" height="9.5"/>
<rect x="247.6" y="37" width="5.6" height="9.5"/>
<rect x="291.2" y="37" width="5.6" height="9.5"/>
<rect x="334.7" y="37" width="5.6" height="17"/>
<rect x="378.3" y="37" width="5.6" height="9.5"/>
<rect x="421.9" y="37" width="5.6" height="9.5"/>
<rect x="465.4" y="37" width="5.6" height="9.5"/>
<rect x="509" y="37" width="5.6" height="9.5"/>
<rect x="552.6" y="37" width="5.6" height="17"/>
<rect x="596.1" y="37" width="5.6" height="9.5"/>
<rect x="639.7" y="37" width="5.6" height="9.5"/>
<rect x="683.3" y="37" width="5.6" height="9.5"/>
<rect x="726.8" y="37" width="5.6" height="9.5"/>
<rect x="770.4" y="37" width="5.6" height="17"/>
<rect x="814" y="37" width="5.6" height="9.5"/>
<rect x="857.5" y="37" width="5.6" height="9.5"/>
<rect x="901.1" y="37" width="5.6" height="9.5"/>
<rect x="944.7" y="37" width="5.6" height="9.5"/>
<rect x="988.2" y="37" width="5.6" height="17"/>
<rect x="1031.8" y="37" width="5.6" height="9.5"/>
<rect x="1075.4" y="37" width="5.6" height="9.5"/>
<rect x="1118.9" y="37" width="5.6" height="9.5"/>
<rect x="1162.5" y="37" width="5.6" height="9.5"/>
<rect x="1206.1" y="37" width="5.6" height="17"/>
<rect x="1249.6" y="37" width="5.6" height="9.5"/>
<rect x="1293.2" y="37" width="5.6" height="9.5"/>
<rect x="1336.8" y="37" width="5.6" height="9.5"/>
<rect x="1380.3" y="37" width="5.6" height="9.5"/>
<rect x="1423.9" y="37" width="5.6" height="17"/>
<rect x="1467.5" y="37" width="5.6" height="9.5"/>
<rect x="1511" y="37" width="5.6" height="9.5"/>
<rect x="1554.6" y="37" width="5.6" height="9.5"/>
<rect x="1598.2" y="37" width="5.6" height="9.5"/>
<rect x="1641.7" y="37" width="5.6" height="17"/>
<rect x="1685.3" y="37" width="5.6" height="9.5"/>
<rect x="1728.9" y="37" width="5.6" height="9.5"/>
<rect x="1772.4" y="37" width="5.6" height="9.5"/>
<rect x="1816" y="37" width="5.6" height="9.5"/>
<rect x="1859.6" y="37" width="5.6" height="17"/>
<rect x="1903.1" y="37" width="5.6" height="9.5"/>
<rect x="1946.7" y="37" width="5.6" height="9.5"/>
<rect x="1990.3" y="37" width="5.6" height="9.5"/>
<rect x="2033.8" y="37" width="5.6" height="9.5"/>
<rect x="2077.4" y="37" width="5.6" height="17"/>
<rect x="2121" y="37" width="5.6" height="9.5"/>
<rect x="2164.5" y="37" width="5.6" height="9.5"/>
<rect x="2208.1" y="37" width="5.6" height="9.5"/>
<rect x="2251.7" y="37" width="5.6" height="9.5"/>
<rect x="117" y="61.3" width="10" height="5.4"/>
<rect x="2291" y="61.3" width="10" height="5.4"/>
<rect x="117" y="85.5" width="10" height="5.4"/>
<rect x="2291" y="85.5" width="10" height="5.4"/>
<rect x="117" y="109.7" width="10" height="5.4"/>
<rect x="2291" y="109.7" width="10" height="5.4"/>
<rect x="117" y="134" width="10" height="5.4"/>
<rect x="2291" y="134" width="10" height="5.4"/>
<rect x="117" y="158.2" width="19" height="5.4"/>
<rect x="2282" y="158.2" width="19" height="5.4"/>
<rect x="117" y="182.4" width="10" height="5.4"/>
<rect x="2291" y="182.4" width="10" height="5.4"/>
<rect x="117" y="206.6" width="10" height="5.4"/>
<rect x="2291" y="206.6" width="10" height="5.4"/>
<rect x="117" y="230.8" width="10" height="5.4"/>
<rect x="2291" y="230.8" width="10" height="5.4"/>
<rect x="117" y="255.1" width="10" height="5.4"/>
<rect x="2291" y="255.1" width="10" height="5.4"/>
<rect x="117" y="279.3" width="19" height="5.4"/>
<rect x="2282" y="279.3" width="19" height="5.4"/>
<rect x="117" y="303.5" width="10" height="5.4"/>
<rect x="2291" y="303.5" width="10" height="5.4"/>
<rect x="117" y="327.7" width="10" height="5.4"/>
<rect x="2291" y="327.7" width="10" height="5.4"/>
<rect x="117" y="351.9" width="10" height="5.4"/>
<rect x="2291" y="351.9" width="10" height="5.4"/>
<rect x="117" y="376.2" width="10" height="5.4"/>
<rect x="2291" y="376.2" width="10" height="5.4"/>
<rect x="117" y="400.4" width="19" height="5.4"/>
<rect x="2282" y="400.4" width="19" height="5.4"/>
<rect x="117" y="424.6" width="10" height="5.4"/>
<rect x="2291" y="424.6" width="10" height="5.4"/>
<rect x="117" y="448.8" width="10" height="5.4"/>
<rect x="2291" y="448.8" width="10" height="5.4"/>
<rect x="117" y="473" width="10" height="5.4"/>
<rect x="2291" y="473" width="10" height="5.4"/>
<rect x="117" y="497.3" width="10" height="5.4"/>
<rect x="2291" y="497.3" width="10" height="5.4"/>
<rect x="117" y="521.5" width="19" height="5.4"/>
<rect x="2282" y="521.5" width="19" height="5.4"/>
<rect x="117" y="545.7" width="10" height="5.4"/>
<rect x="2291" y="545.7" width="10" height="5.4"/>
<rect x="117" y="569.9" width="10" height="5.4"/>
<rect x="2291" y="569.9" width="10" height="5.4"/>
<rect x="117" y="594.1" width="10" height="5.4"/>
<rect x="2291" y="594.1" width="10" height="5.4"/>
<rect x="117" y="618.4" width="10" height="5.4"/>
<rect x="2291" y="618.4" width="10" height="5.4"/>
<rect x="117" y="642.6" width="19" height="5.4"/>
<rect x="2282" y="642.6" width="19" height="5.4"/>
<rect x="117" y="666.8" width="10" height="5.4"/>
<rect x="2291" y="666.8" width="10" height="5.4"/>
<rect x="117" y="691" width="10" height="5.4"/>
<rect x="2291" y="691" width="10" height="5.4"/>
<rect x="117" y="715.2" width="10" height="5.4"/>
<rect x="2291" y="715.2" width="10" height="5.4"/>
<rect x="117" y="739.5" width="10" height="5.4"/>
<rect x="2291" y="739.5" width="10" height="5.4"/>
<rect x="117" y="763.7" width="19" height="5.4"/>
<rect x="2282" y="763.7" width="19" height="5.4"/>
<rect x="117" y="787.9" width="10" height="5.4"/>
<rect x="2291" y="787.9" width="10" height="5.4"/>
<rect x="117" y="812.1" width="10" height="5.4"/>
<rect x="2291" y="812.1" width="10" height="5.4"/>
<rect x="117" y="836.3" width="10" height="5.4"/>
<rect x="2291" y="836.3" width="10" height="5.4"/>
<rect x="117" y="860.6" width="10" height="5.4"/>
<rect x="2291" y="860.6" width="10" height="5.4"/>
<rect x="117" y="884.8" width="19" height="5.4"/>
<rect x="2282" y="884.8" width="19" height="5.4"/>
<rect x="117" y="909" width="10" height="5.4"/>
<rect x="2291" y="909" width="10" height="5.4"/>
<rect x="117" y="933.2" width="10" height="5.4"/>
<rect x="2291" y="933.2" width="10" height="5.4"/>
<rect x="117" y="957.4" width="10" height="5.4"/>
<rect x="2291" y="957.4" width="10" height="5.4"/>
</g>
<g id="trigger" filter="url(#b2)"><polygon points="1190.5,37 1227.5,37 1209,57.5" fill="#ffa200"/><rect x="1192" y="35.5" width="34" height="3" fill="#4a2c00"/></g>
<g id="markers" filter="url(#b2)">
<polygon points="33,441.6 85.5,441.6 109.5,468.2 85.5,495 33,495" fill="none" stroke="#00e0e0" stroke-width="6.6" stroke-linejoin="round"/>
<text class="s" transform="translate(46.5,488.2) scale(0.86,1)" font-size="56" font-weight="bold" fill="#00e0e0">2</text>
<polygon points="33,596.4 85.5,596.4 109.5,623 85.5,650 33,650" fill="none" stroke="#c81eb4" stroke-width="6" stroke-linejoin="round"/>
<text class="s" transform="translate(46.5,643.4) scale(0.95,1)" font-size="54" fill="#c81eb4" stroke="#c81eb4" stroke-width="1.5">3</text>
<polyline points="33,803 33,789.6 86,789.6 111,816.5" fill="none" stroke="#3c3cf0" stroke-width="6.4" stroke-linejoin="round" stroke-linecap="round"/>
<rect x="58.5" y="797.5" width="6" height="5.5" rx="2" fill="#3c3cf0"/>
<circle cx="112" cy="817" r="4.5" fill="#1818d0"/>
<polygon points="21,808 85,808 107,831.5 85,855.5 21,855.5" fill="#007f22"/>
<text class="s" transform="translate(33.6,851.2) scale(0.88,1)" font-size="54" fill="#f4faf4" stroke="#f4faf4" stroke-width="1">4</text>
</g>
<g id="status" filter="url(#b2)">
<rect x="889.2" y="886.6" width="468.7" height="73.4" rx="11" fill="#fff" stroke="#3c3c3c" stroke-width="5.6"/>
<rect x="897.4" y="897" width="452.3" height="59" rx="4" fill="#efefef"/>
<rect x="897.4" y="957.4" width="452.3" height="5.4" fill="#0a0a0a"/>
<rect x="1369.1" y="886.6" width="672.1" height="73.4" rx="11" fill="#fff" stroke="#3c3c3c" stroke-width="5.6"/>
<rect x="1377.3" y="897" width="655.7" height="59" rx="4" fill="#efefef"/>
<rect x="1377.3" y="957.4" width="655.7" height="5.4" fill="#0a0a0a"/>
<text class="s" transform="translate(895.3,942.4) scale(0.8,1)" font-size="53" fill="#1c1c10" stroke="#1c1c10" stroke-width="1.7">40.0ms</text>
<polygon points="1388,904.5 1447,904.5 1459,916.5 1459,940.5 1447,952.5 1388,952.5 1376,940.5 1376,916.5" fill="#1212fa"/>
<text class="s" transform="translate(1404,946.8) scale(0.8,1)" font-size="52" fill="#e4e4ff" stroke="#e4e4ff" stroke-width="1">1</text>
<rect x="1399" y="939" width="14.4" height="12" fill="#1212fa"/><rect x="1421.2" y="939" width="11" height="12" fill="#1212fa"/>
<polyline points="1488,940 1498,940 1503,934 1514,912 1518,907.5 1525,907.5" fill="none" stroke="#1a1a12" stroke-width="5" stroke-linejoin="round"/>
<text class="s" transform="translate(1534.5,942.4) scale(0.8,1)" font-size="53" fill="#1c1c10" stroke="#1c1c10" stroke-width="1.7" xml:space="preserve">3.20 V</text>
</g>
<g id="labels" filter="url(#b2)">
<g transform="translate(230.79,179.60) skewX(-11) scale(0.9431,1)" font-size="93" font-weight="bold" font-style="italic"><text class="t" xml:space="preserve">V</text></g>
<g transform="translate(297.96,190.80) skewX(-5.5) scale(0.9274,1)" font-size="58.5" font-weight="bold" font-style="italic"><text class="t" xml:space="preserve">dc</text></g>
<g transform="translate(352.51,178.60) scale(0.9293,1)" font-size="90" font-weight="bold" font-style="normal"><text class="t" xml:space="preserve">:</text></g>
<g transform="translate(399.60,178.40) scale(1.0005,1)" font-size="96" font-weight="bold" font-style="normal">
<text class="t" transform="translate(0,5.3) scale(1,1.045)">[</text>
<text class="t" x="32" xml:space="preserve">10V/div</text>
<text class="t" transform="translate(352,5.3) scale(1,1.045)">]</text>
</g>
<g transform="translate(808.98,179.00) scale(1.0286,1)" font-size="88" font-weight="bold" font-style="normal"><text class="t" xml:space="preserve">slightly</text></g>
<g transform="translate(556.68,268.20) scale(1.0436,1)" font-size="87" font-weight="bold" font-style="normal"><text class="t" xml:space="preserve">lower</text></g>
<g transform="translate(137.67,393.90) skewX(-5) scale(0.9800,1)" font-size="98" font-weight="bold" font-style="italic"><text class="t" xml:space="preserve">I</text></g>
<g transform="translate(176.65,408.00) skewX(-5.5) scale(1.0089,1)" font-size="61.5" font-weight="bold" font-style="italic"><text class="t" xml:space="preserve">load</text></g>
<g transform="translate(290.13,394.60) scale(0.9372,1)" font-size="97" font-weight="bold" font-style="normal"><text class="t" xml:space="preserve">:</text></g>
<g transform="translate(324.02,393.90) scale(0.9975,1)" font-size="96" font-weight="bold" font-style="normal">
<text class="t" transform="translate(0,5.3) scale(1,1.045)">[</text>
<text class="t" x="32" xml:space="preserve">1A/div</text>
<text class="t" transform="translate(304,5.3) scale(1,1.045)">]</text>
</g>
<g transform="translate(690.93,393.90) scale(0.9972,1)" font-size="97" font-weight="bold" font-style="normal"><text class="t" xml:space="preserve">0.5A</text></g>
<g transform="translate(953.95,393.90) scale(0.9992,1)" font-size="97" font-weight="bold" font-style="normal"><text class="t" xml:space="preserve">1.7A</text></g>
<g transform="translate(171.77,507.90) skewX(-5) scale(0.9800,1)" font-size="91.6" font-weight="bold" font-style="italic"><text class="t" xml:space="preserve">I</text></g>
<g transform="translate(208.37,519.20) skewX(-5.5) scale(0.9645,1)" font-size="57.5" font-weight="bold" font-style="italic"><text class="t" xml:space="preserve">bat</text></g>
<g transform="translate(297.95,507.40) scale(0.9091,1)" font-size="90" font-weight="bold" font-style="normal"><text class="t" xml:space="preserve">:</text></g>
<g transform="translate(329.20,507.90) scale(0.9708,1)" font-size="92" font-weight="bold" font-style="normal">
<text class="t" transform="translate(0,5.1) scale(1,1.045)">[</text>
<text class="t" x="30.6" xml:space="preserve">2A/div</text>
<text class="t" transform="translate(291.4,5.1) scale(1,1.045)">]</text>
</g>
<g transform="translate(666.35,507.40) scale(0.9879,1)" font-size="98" font-weight="bold" font-style="normal"><text class="t" xml:space="preserve">1.2A</text></g>
<g transform="translate(927.80,507.40) scale(0.9955,1)" font-size="98" font-weight="bold" font-style="normal"><text class="t" xml:space="preserve">2.6A</text></g>
<g transform="translate(1386.67,588.00) skewX(-5) scale(0.9800,1)" font-size="91.6" font-weight="bold" font-style="italic"><text class="t" xml:space="preserve">I</text></g>
<g transform="translate(1422.68,600.70) skewX(-5.5) scale(0.9666,1)" font-size="57.5" font-weight="bold" font-style="italic"><text class="t" xml:space="preserve">sc</text></g>
<g transform="translate(1472.75,588.00) scale(0.9091,1)" font-size="90" font-weight="bold" font-style="normal"><text class="t" xml:space="preserve">:</text></g>
<g transform="translate(1526.02,587.60) scale(0.9975,1)" font-size="96" font-weight="bold" font-style="normal">
<text class="t" transform="translate(0,5.3) scale(1,1.045)">[</text>
<text class="t" x="32" xml:space="preserve">1A/div</text>
<text class="t" transform="translate(304,5.3) scale(1,1.045)">]</text>
</g>
<g transform="translate(1888.62,588.00) scale(1.0200,1)" font-size="94" font-weight="bold" font-style="normal"><text class="t" xml:space="preserve">sudden</text></g>
<g transform="translate(1424.27,674.30) scale(1.0271,1)" font-size="94" font-weight="bold" font-style="normal"><text class="t" xml:space="preserve">increase and then</text></g>
<g transform="translate(1608.00,762.30) scale(1.0377,1)" font-size="94" font-weight="bold" font-style="normal"><text class="t" xml:space="preserve">decrease</text></g>
<g transform="translate(201.15,772.60) scale(1.0484,1)" font-size="86" font-weight="bold" font-style="normal"><text class="t" xml:space="preserve">Time scale:</text></g>
<g transform="translate(663.57,772.60) scale(1.0063,1)" font-size="95" font-weight="bold" font-style="normal"><text class="t" xml:space="preserve">40ms/div</text></g>
</g>
<g id="arrows" filter="url(#b2)">
<line x1="1130.9" y1="171.1" x2="1170" y2="132" stroke="#000" stroke-width="6" stroke-linecap="round"/>
<polygon points="1194.7,107.3 1179.9,150.4 1170,132 1151.6,122.1" fill="#000"/>
<line x1="1131.5" y1="362.6" x2="1170.1" y2="324.4" stroke="#000" stroke-width="6" stroke-linecap="round"/>
<polygon points="1194.9,299.7 1179.9,342.8 1170.1,324.4 1151.7,314.4" fill="#000"/>
<line x1="1121.2" y1="495.8" x2="1192.9" y2="473.8" stroke="#000" stroke-width="6" stroke-linecap="round"/>
<polygon points="1226.4,463.5 1193.1,494.7 1192.9,473.8 1181.3,456.4" fill="#000"/>
<line x1="1416" y1="604.5" x2="1291.8" y2="663.1" stroke="#000" stroke-width="6" stroke-linecap="round"/>
<polygon points="1260.1,678 1288.7,642.4 1291.8,663.1 1305.7,678.6" fill="#000"/>
<line x1="875" y1="357.3" x2="928.6" y2="357.3" stroke="#000" stroke-width="6" stroke-linecap="round"/>
<polygon points="963.6,357.3 922.6,378.3 928.6,357.3 922.6,336.3" fill="#000"/>
<line x1="846" y1="477.9" x2="900.4" y2="477.9" stroke="#000" stroke-width="6" stroke-linecap="round"/>
<polygon points="935.4,477.9 894.4,498.9 900.4,477.9 894.4,456.9" fill="#000"/>
</g>
</svg>
</body></html>
